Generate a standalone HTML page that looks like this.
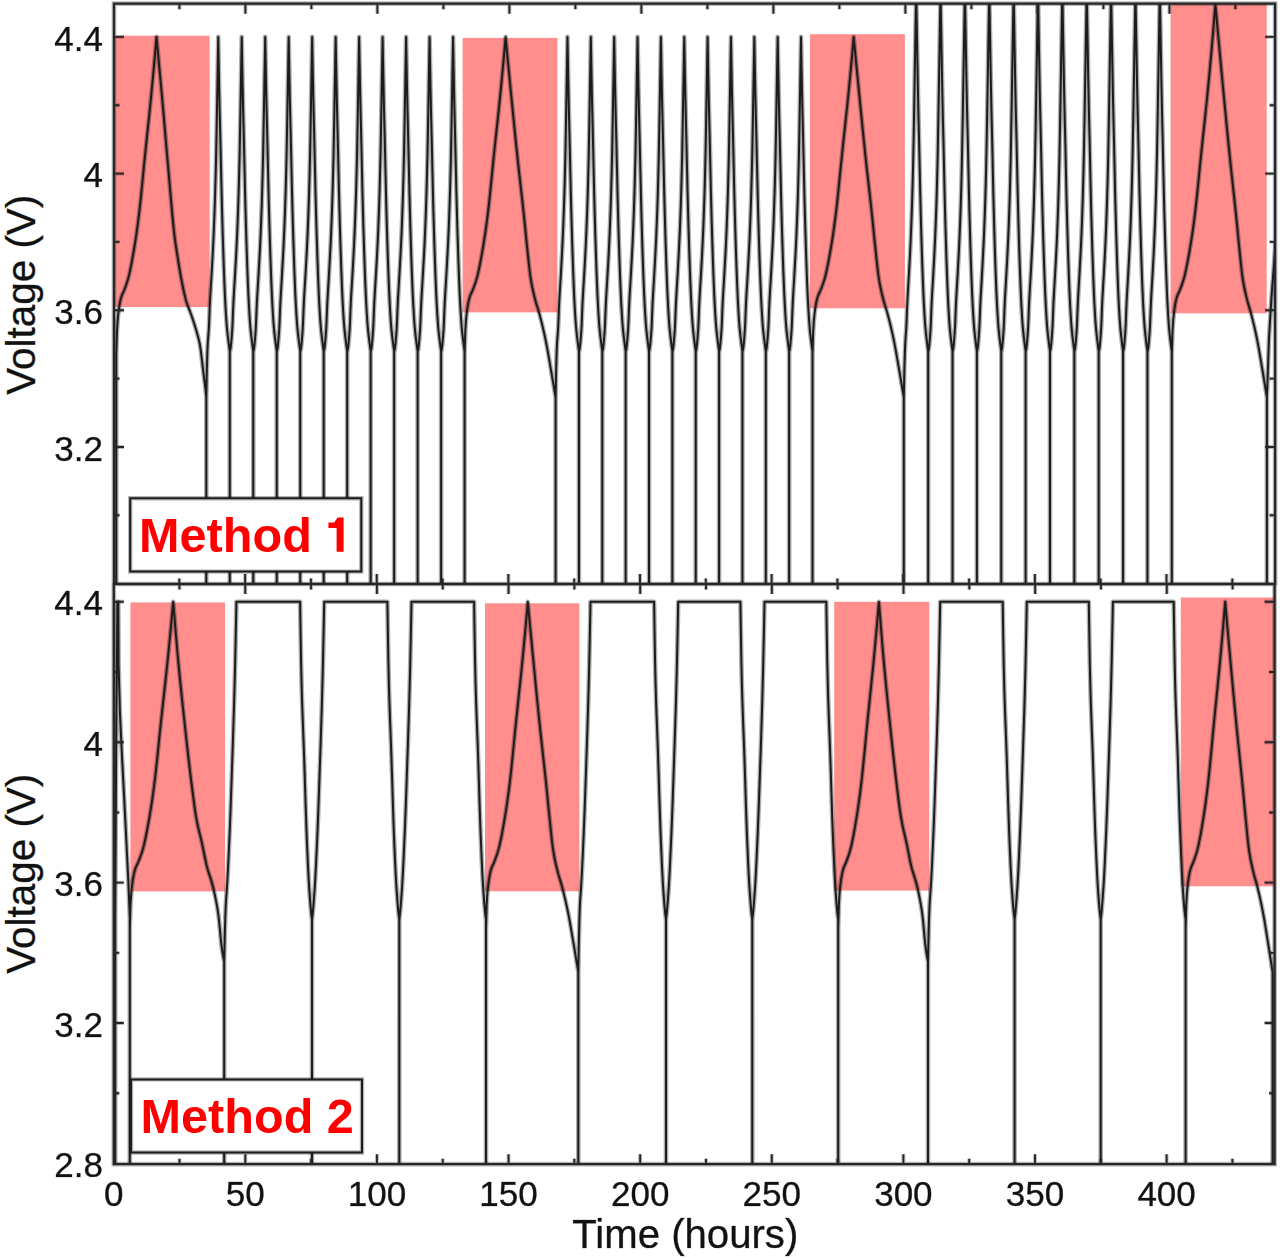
<!DOCTYPE html>
<html><head><meta charset="utf-8"><title>Voltage vs time</title>
<style>
html,body{margin:0;padding:0;background:#fff;width:1280px;height:1258px;overflow:hidden;}
svg{display:block;}
text{font-family:"Liberation Sans",sans-serif;}
</style></head><body>
<svg width="1280" height="1258" viewBox="0 0 1280 1258">
<defs><clipPath id="cT"><rect x="114.00" y="3.70" width="1161.10" height="580.30"/></clipPath><clipPath id="cB"><rect x="113.80" y="584.00" width="1160.80" height="580.20"/></clipPath></defs>
<rect x="0" y="0" width="1280" height="1258" fill="#fff"/>
<g fill="#ff8e8d">
<rect x="114.0" y="35.7" width="95.6" height="271.4" clip-path="url(#cT)"/>
<rect x="462.6" y="37.9" width="94.8" height="274.5" clip-path="url(#cT)"/>
<rect x="810.0" y="34.2" width="94.9" height="274.1" clip-path="url(#cT)"/>
<rect x="1170.5" y="3.0" width="96.2" height="310.3" clip-path="url(#cT)"/>
<rect x="130.4" y="602.4" width="94.6" height="289.0" clip-path="url(#cB)"/>
<rect x="485.0" y="603.3" width="94.4" height="288.0" clip-path="url(#cB)"/>
<rect x="834.2" y="601.8" width="95.0" height="288.8" clip-path="url(#cB)"/>
<rect x="1180.8" y="597.5" width="95.2" height="288.8" clip-path="url(#cB)"/>
</g>
<defs><path id="m1" d="M116.30 686.13 L116.30 354.68 L116.30 354.68 L116.98 331.38 L117.66 320.37 L118.34 313.39 L119.03 308.14 L119.71 303.89 L120.39 300.50 L121.07 297.81 L121.75 295.70 L122.43 294.03 L123.11 292.57 L123.79 291.10 L124.48 289.39 L125.16 287.58 L125.84 285.73 L126.52 283.80 L127.20 281.74 L127.88 279.50 L128.56 277.03 L129.25 274.28 L129.93 271.27 L130.61 268.03 L131.29 264.58 L131.97 260.95 L132.65 257.17 L133.33 253.26 L134.02 249.27 L134.70 245.19 L135.38 240.92 L136.06 236.42 L136.74 231.69 L137.42 226.74 L138.10 221.57 L138.78 216.17 L139.47 210.44 L140.15 204.30 L140.83 197.82 L141.51 191.08 L142.19 184.17 L142.87 177.16 L143.55 170.12 L144.24 163.14 L144.92 156.29 L145.60 149.64 L146.28 143.09 L146.96 136.59 L147.64 130.12 L148.32 123.64 L149.01 117.12 L149.69 110.53 L150.37 103.83 L151.05 96.99 L151.73 89.98 L152.41 82.84 L153.09 75.59 L153.77 68.21 L154.46 60.68 L155.14 52.96 L155.82 45.05 L156.50 36.90 L156.50 36.90 L157.22 44.75 L157.94 52.54 L158.67 60.31 L159.39 68.07 L160.11 75.86 L160.83 83.69 L161.55 91.58 L162.27 99.57 L163.00 107.68 L163.72 115.94 L164.44 124.31 L165.16 132.75 L165.88 141.20 L166.60 149.63 L167.33 157.99 L168.05 166.25 L168.77 174.34 L169.49 182.52 L170.21 190.86 L170.93 199.22 L171.66 207.44 L172.38 215.37 L173.10 222.88 L173.82 229.81 L174.54 236.03 L175.27 241.57 L175.99 246.64 L176.71 251.38 L177.43 255.96 L178.15 260.51 L178.87 265.03 L179.60 269.42 L180.32 273.64 L181.04 277.62 L181.76 281.35 L182.48 284.98 L183.20 288.51 L183.93 291.89 L184.65 295.09 L185.37 298.05 L186.09 300.73 L186.81 303.10 L187.53 305.17 L188.26 307.05 L188.98 308.82 L189.70 310.60 L190.42 312.46 L191.14 314.49 L191.87 316.58 L192.59 318.71 L193.31 320.89 L194.03 323.12 L194.75 325.42 L195.47 327.80 L196.20 330.26 L196.92 332.75 L197.64 335.25 L198.36 337.89 L199.08 340.86 L199.80 344.32 L200.53 348.75 L201.25 354.28 L201.97 360.41 L202.69 366.66 L203.41 372.55 L204.13 378.05 L204.86 383.75 L205.58 390.20 L206.30 397.39 L206.30 686.13 M206.30 686.13 L206.30 397.39 L206.61 381.57 L206.91 367.97 L207.22 356.72 L207.52 347.94 L207.83 341.75 L208.14 337.82 L208.44 333.96 L208.75 329.89 L209.06 323.83 L209.36 316.08 L209.67 308.20 L209.97 301.63 L210.28 296.02 L210.59 290.80 L210.89 285.80 L211.20 280.81 L211.51 275.65 L211.81 270.19 L212.12 264.72 L212.42 259.19 L212.73 253.51 L213.04 247.54 L213.34 241.18 L213.65 234.35 L213.95 227.07 L214.26 219.29 L214.57 210.94 L214.87 201.96 L215.18 192.22 L215.49 181.37 L215.79 169.37 L216.10 156.22 L216.40 141.11 L216.71 124.23 L217.02 106.94 L217.32 89.78 L217.63 72.24 L217.93 54.53 L218.24 36.90 L218.24 36.90 L218.72 63.71 L219.20 89.11 L219.68 111.13 L220.16 130.50 L220.65 150.43 L221.13 172.36 L221.61 193.62 L222.09 212.12 L222.57 228.99 L223.05 244.65 L223.53 259.29 L224.01 272.67 L224.49 285.02 L224.97 296.12 L225.45 305.43 L225.93 313.81 L226.42 321.19 L226.90 327.35 L227.38 332.32 L227.86 336.56 L228.34 340.43 L228.82 344.24 L229.30 347.87 L229.78 351.26 L229.78 686.13 M229.78 686.13 L229.78 351.26 L230.09 350.79 L230.39 349.45 L230.70 347.36 L231.01 344.64 L231.31 341.42 L231.62 337.82 L231.93 333.96 L232.23 329.89 L232.54 323.83 L232.84 316.08 L233.15 308.20 L233.46 301.63 L233.76 296.02 L234.07 290.80 L234.37 285.80 L234.68 280.81 L234.99 275.65 L235.29 270.19 L235.60 264.72 L235.91 259.19 L236.21 253.51 L236.52 247.54 L236.82 241.18 L237.13 234.35 L237.44 227.07 L237.74 219.29 L238.05 210.94 L238.35 201.96 L238.66 192.22 L238.97 181.37 L239.27 169.37 L239.58 156.22 L239.89 141.11 L240.19 124.23 L240.50 106.94 L240.80 89.78 L241.11 72.24 L241.42 54.53 L241.72 36.90 L241.72 36.90 L242.20 63.71 L242.68 89.11 L243.17 111.13 L243.65 130.50 L244.13 150.43 L244.61 172.36 L245.09 193.62 L245.57 212.12 L246.05 228.99 L246.53 244.65 L247.01 259.29 L247.49 272.67 L247.97 285.02 L248.45 296.12 L248.94 305.43 L249.42 313.81 L249.90 321.19 L250.38 327.35 L250.86 332.32 L251.34 336.56 L251.82 340.43 L252.30 344.24 L252.78 347.87 L253.26 351.26 L253.26 686.13 M253.26 686.13 L253.26 351.26 L253.57 350.79 L253.88 349.45 L254.18 347.36 L254.49 344.64 L254.79 341.42 L255.10 337.82 L255.41 333.96 L255.71 329.89 L256.02 323.83 L256.33 316.08 L256.63 308.20 L256.94 301.63 L257.24 296.02 L257.55 290.80 L257.86 285.80 L258.16 280.81 L258.47 275.65 L258.77 270.19 L259.08 264.72 L259.39 259.19 L259.69 253.51 L260.00 247.54 L260.31 241.18 L260.61 234.35 L260.92 227.07 L261.22 219.29 L261.53 210.94 L261.84 201.96 L262.14 192.22 L262.45 181.37 L262.76 169.37 L263.06 156.22 L263.37 141.11 L263.67 124.23 L263.98 106.94 L264.29 89.78 L264.59 72.24 L264.90 54.53 L265.20 36.90 L265.20 36.90 L265.69 63.71 L266.17 89.11 L266.65 111.13 L267.13 130.50 L267.61 150.43 L268.09 172.36 L268.57 193.62 L269.05 212.12 L269.53 228.99 L270.01 244.65 L270.49 259.29 L270.98 272.67 L271.46 285.02 L271.94 296.12 L272.42 305.43 L272.90 313.81 L273.38 321.19 L273.86 327.35 L274.34 332.32 L274.82 336.56 L275.30 340.43 L275.78 344.24 L276.26 347.87 L276.75 351.26 L276.75 686.13 M276.75 686.13 L276.75 351.26 L277.05 350.79 L277.36 349.45 L277.66 347.36 L277.97 344.64 L278.28 341.42 L278.58 337.82 L278.89 333.96 L279.19 329.89 L279.50 323.83 L279.81 316.08 L280.11 308.20 L280.42 301.63 L280.73 296.02 L281.03 290.80 L281.34 285.80 L281.64 280.81 L281.95 275.65 L282.26 270.19 L282.56 264.72 L282.87 259.19 L283.18 253.51 L283.48 247.54 L283.79 241.18 L284.09 234.35 L284.40 227.07 L284.71 219.29 L285.01 210.94 L285.32 201.96 L285.62 192.22 L285.93 181.37 L286.24 169.37 L286.54 156.22 L286.85 141.11 L287.16 124.23 L287.46 106.94 L287.77 89.78 L288.07 72.24 L288.38 54.53 L288.69 36.90 L288.69 36.90 L289.17 63.71 L289.65 89.11 L290.13 111.13 L290.61 130.50 L291.09 150.43 L291.57 172.36 L292.05 193.62 L292.53 212.12 L293.01 228.99 L293.50 244.65 L293.98 259.29 L294.46 272.67 L294.94 285.02 L295.42 296.12 L295.90 305.43 L296.38 313.81 L296.86 321.19 L297.34 327.35 L297.82 332.32 L298.30 336.56 L298.78 340.43 L299.27 344.24 L299.75 347.87 L300.23 351.26 L300.23 686.13 M300.23 686.13 L300.23 351.26 L300.53 350.79 L300.84 349.45 L301.15 347.36 L301.45 344.64 L301.76 341.42 L302.06 337.82 L302.37 333.96 L302.68 329.89 L302.98 323.83 L303.29 316.08 L303.60 308.20 L303.90 301.63 L304.21 296.02 L304.51 290.80 L304.82 285.80 L305.13 280.81 L305.43 275.65 L305.74 270.19 L306.04 264.72 L306.35 259.19 L306.66 253.51 L306.96 247.54 L307.27 241.18 L307.58 234.35 L307.88 227.07 L308.19 219.29 L308.49 210.94 L308.80 201.96 L309.11 192.22 L309.41 181.37 L309.72 169.37 L310.02 156.22 L310.33 141.11 L310.64 124.23 L310.94 106.94 L311.25 89.78 L311.56 72.24 L311.86 54.53 L312.17 36.90 L312.17 36.90 L312.65 63.71 L313.13 89.11 L313.61 111.13 L314.09 130.50 L314.57 150.43 L315.05 172.36 L315.53 193.62 L316.02 212.12 L316.50 228.99 L316.98 244.65 L317.46 259.29 L317.94 272.67 L318.42 285.02 L318.90 296.12 L319.38 305.43 L319.86 313.81 L320.34 321.19 L320.82 327.35 L321.30 332.32 L321.79 336.56 L322.27 340.43 L322.75 344.24 L323.23 347.87 L323.71 351.26 L323.71 686.13 M323.71 686.13 L323.71 351.26 L324.02 350.79 L324.32 349.45 L324.63 347.36 L324.93 344.64 L325.24 341.42 L325.55 337.82 L325.85 333.96 L326.16 329.89 L326.46 323.83 L326.77 316.08 L327.08 308.20 L327.38 301.63 L327.69 296.02 L328.00 290.80 L328.30 285.80 L328.61 280.81 L328.91 275.65 L329.22 270.19 L329.53 264.72 L329.83 259.19 L330.14 253.51 L330.44 247.54 L330.75 241.18 L331.06 234.35 L331.36 227.07 L331.67 219.29 L331.98 210.94 L332.28 201.96 L332.59 192.22 L332.89 181.37 L333.20 169.37 L333.51 156.22 L333.81 141.11 L334.12 124.23 L334.43 106.94 L334.73 89.78 L335.04 72.24 L335.34 54.53 L335.65 36.90 L335.65 36.90 L336.13 63.71 L336.61 89.11 L337.09 111.13 L337.57 130.50 L338.05 150.43 L338.54 172.36 L339.02 193.62 L339.50 212.12 L339.98 228.99 L340.46 244.65 L340.94 259.29 L341.42 272.67 L341.90 285.02 L342.38 296.12 L342.86 305.43 L343.34 313.81 L343.82 321.19 L344.31 327.35 L344.79 332.32 L345.27 336.56 L345.75 340.43 L346.23 344.24 L346.71 347.87 L347.19 351.26 L347.19 686.13 M347.19 686.13 L347.19 351.26 L347.50 350.79 L347.80 349.45 L348.11 347.36 L348.42 344.64 L348.72 341.42 L349.03 337.82 L349.33 333.96 L349.64 329.89 L349.95 323.83 L350.25 316.08 L350.56 308.20 L350.87 301.63 L351.17 296.02 L351.48 290.80 L351.78 285.80 L352.09 280.81 L352.40 275.65 L352.70 270.19 L353.01 264.72 L353.31 259.19 L353.62 253.51 L353.93 247.54 L354.23 241.18 L354.54 234.35 L354.85 227.07 L355.15 219.29 L355.46 210.94 L355.76 201.96 L356.07 192.22 L356.38 181.37 L356.68 169.37 L356.99 156.22 L357.29 141.11 L357.60 124.23 L357.91 106.94 L358.21 89.78 L358.52 72.24 L358.83 54.53 L359.13 36.90 L359.13 36.90 L359.61 63.71 L360.09 89.11 L360.57 111.13 L361.06 130.50 L361.54 150.43 L362.02 172.36 L362.50 193.62 L362.98 212.12 L363.46 228.99 L363.94 244.65 L364.42 259.29 L364.90 272.67 L365.38 285.02 L365.86 296.12 L366.34 305.43 L366.83 313.81 L367.31 321.19 L367.79 327.35 L368.27 332.32 L368.75 336.56 L369.23 340.43 L369.71 344.24 L370.19 347.87 L370.67 351.26 L370.67 686.13 M370.67 686.13 L370.67 351.26 L370.98 350.79 L371.29 349.45 L371.59 347.36 L371.90 344.64 L372.20 341.42 L372.51 337.82 L372.82 333.96 L373.12 329.89 L373.43 323.83 L373.73 316.08 L374.04 308.20 L374.35 301.63 L374.65 296.02 L374.96 290.80 L375.27 285.80 L375.57 280.81 L375.88 275.65 L376.18 270.19 L376.49 264.72 L376.80 259.19 L377.10 253.51 L377.41 247.54 L377.71 241.18 L378.02 234.35 L378.33 227.07 L378.63 219.29 L378.94 210.94 L379.25 201.96 L379.55 192.22 L379.86 181.37 L380.16 169.37 L380.47 156.22 L380.78 141.11 L381.08 124.23 L381.39 106.94 L381.70 89.78 L382.00 72.24 L382.31 54.53 L382.61 36.90 L382.61 36.90 L383.09 63.71 L383.58 89.11 L384.06 111.13 L384.54 130.50 L385.02 150.43 L385.50 172.36 L385.98 193.62 L386.46 212.12 L386.94 228.99 L387.42 244.65 L387.90 259.29 L388.38 272.67 L388.86 285.02 L389.35 296.12 L389.83 305.43 L390.31 313.81 L390.79 321.19 L391.27 327.35 L391.75 332.32 L392.23 336.56 L392.71 340.43 L393.19 344.24 L393.67 347.87 L394.15 351.26 L394.15 686.13 M394.15 686.13 L394.15 351.26 L394.46 350.79 L394.77 349.45 L395.07 347.36 L395.38 344.64 L395.69 341.42 L395.99 337.82 L396.30 333.96 L396.60 329.89 L396.91 323.83 L397.22 316.08 L397.52 308.20 L397.83 301.63 L398.13 296.02 L398.44 290.80 L398.75 285.80 L399.05 280.81 L399.36 275.65 L399.67 270.19 L399.97 264.72 L400.28 259.19 L400.58 253.51 L400.89 247.54 L401.20 241.18 L401.50 234.35 L401.81 227.07 L402.12 219.29 L402.42 210.94 L402.73 201.96 L403.03 192.22 L403.34 181.37 L403.65 169.37 L403.95 156.22 L404.26 141.11 L404.56 124.23 L404.87 106.94 L405.18 89.78 L405.48 72.24 L405.79 54.53 L406.10 36.90 L406.10 36.90 L406.58 63.71 L407.06 89.11 L407.54 111.13 L408.02 130.50 L408.50 150.43 L408.98 172.36 L409.46 193.62 L409.94 212.12 L410.42 228.99 L410.90 244.65 L411.39 259.29 L411.87 272.67 L412.35 285.02 L412.83 296.12 L413.31 305.43 L413.79 313.81 L414.27 321.19 L414.75 327.35 L415.23 332.32 L415.71 336.56 L416.19 340.43 L416.67 344.24 L417.16 347.87 L417.64 351.26 L417.64 686.13 M417.64 686.13 L417.64 351.26 L417.94 350.79 L418.25 349.45 L418.55 347.36 L418.86 344.64 L419.17 341.42 L419.47 337.82 L419.78 333.96 L420.09 329.89 L420.39 323.83 L420.70 316.08 L421.00 308.20 L421.31 301.63 L421.62 296.02 L421.92 290.80 L422.23 285.80 L422.54 280.81 L422.84 275.65 L423.15 270.19 L423.45 264.72 L423.76 259.19 L424.07 253.51 L424.37 247.54 L424.68 241.18 L424.98 234.35 L425.29 227.07 L425.60 219.29 L425.90 210.94 L426.21 201.96 L426.52 192.22 L426.82 181.37 L427.13 169.37 L427.43 156.22 L427.74 141.11 L428.05 124.23 L428.35 106.94 L428.66 89.78 L428.96 72.24 L429.27 54.53 L429.58 36.90 L429.58 36.90 L430.06 63.71 L430.54 89.11 L431.02 111.13 L431.50 130.50 L431.98 150.43 L432.46 172.36 L432.94 193.62 L433.42 212.12 L433.91 228.99 L434.39 244.65 L434.87 259.29 L435.35 272.67 L435.83 285.02 L436.31 296.12 L436.79 305.43 L437.27 313.81 L437.75 321.19 L438.23 327.35 L438.71 332.32 L439.19 336.56 L439.68 340.43 L440.16 344.24 L440.64 347.87 L441.12 351.26 L441.12 686.13 M441.12 686.13 L441.12 351.26 L441.42 350.79 L441.73 349.45 L442.04 347.36 L442.34 344.64 L442.65 341.42 L442.96 337.82 L443.26 333.96 L443.57 329.89 L443.87 323.83 L444.18 316.08 L444.49 308.20 L444.79 301.63 L445.10 296.02 L445.40 290.80 L445.71 285.80 L446.02 280.81 L446.32 275.65 L446.63 270.19 L446.94 264.72 L447.24 259.19 L447.55 253.51 L447.85 247.54 L448.16 241.18 L448.47 234.35 L448.77 227.07 L449.08 219.29 L449.38 210.94 L449.69 201.96 L450.00 192.22 L450.30 181.37 L450.61 169.37 L450.92 156.22 L451.22 141.11 L451.53 124.23 L451.83 106.94 L452.14 89.78 L452.45 72.24 L452.75 54.53 L453.06 36.90 L453.06 36.90 L453.54 63.71 L454.02 89.11 L454.50 111.13 L454.98 130.50 L455.46 150.43 L455.94 172.36 L456.43 193.62 L456.91 212.12 L457.39 228.99 L457.87 244.65 L458.35 259.29 L458.83 272.67 L459.31 285.02 L459.79 296.12 L460.27 305.43 L460.75 313.81 L461.23 321.19 L461.71 327.35 L462.20 332.32 L462.68 336.56 L463.16 340.43 L463.64 344.24 L464.12 347.87 L464.60 351.26 L464.60 686.13 M464.60 686.13 L464.60 354.68 L464.60 354.68 L465.29 331.38 L465.99 320.37 L466.68 313.39 L467.38 308.14 L468.07 303.89 L468.77 300.50 L469.46 297.81 L470.16 295.70 L470.85 294.03 L471.55 292.57 L472.24 291.10 L472.94 289.39 L473.63 287.58 L474.33 285.73 L475.02 283.80 L475.72 281.74 L476.41 279.50 L477.11 277.03 L477.80 274.28 L478.50 271.27 L479.19 268.03 L479.89 264.58 L480.58 260.95 L481.28 257.17 L481.97 253.26 L482.67 249.27 L483.36 245.19 L484.06 240.92 L484.75 236.42 L485.45 231.69 L486.14 226.74 L486.84 221.57 L487.53 216.17 L488.23 210.44 L488.92 204.30 L489.62 197.82 L490.31 191.08 L491.01 184.17 L491.70 177.16 L492.40 170.12 L493.09 163.14 L493.79 156.29 L494.48 149.64 L495.18 143.09 L495.87 136.59 L496.57 130.12 L497.26 123.64 L497.96 117.12 L498.65 110.53 L499.35 103.83 L500.04 96.99 L500.74 89.98 L501.43 82.84 L502.13 75.59 L502.82 68.21 L503.52 60.68 L504.21 52.96 L504.91 45.05 L505.60 36.90 L505.60 36.90 L506.32 44.59 L507.05 52.23 L507.77 59.83 L508.50 67.38 L509.22 74.89 L509.95 82.35 L510.67 89.76 L511.40 97.14 L512.12 104.51 L512.85 111.86 L513.57 119.17 L514.30 126.44 L515.02 133.64 L515.74 140.76 L516.47 147.80 L517.19 154.73 L517.92 161.52 L518.64 168.14 L519.37 174.66 L520.09 181.10 L520.82 187.51 L521.54 193.93 L522.27 200.42 L522.99 207.01 L523.72 213.74 L524.44 220.70 L525.17 227.96 L525.89 235.28 L526.61 242.45 L527.34 249.27 L528.06 256.17 L528.79 263.03 L529.51 269.53 L530.24 275.35 L530.96 280.19 L531.69 284.28 L532.41 287.96 L533.14 291.29 L533.86 294.38 L534.59 297.30 L535.31 300.13 L536.03 302.73 L536.76 305.13 L537.48 307.42 L538.21 309.73 L538.93 312.17 L539.66 314.83 L540.38 317.59 L541.11 320.42 L541.83 323.32 L542.56 326.32 L543.28 329.40 L544.01 332.59 L544.73 335.88 L545.46 339.29 L546.18 342.86 L546.90 346.66 L547.63 350.63 L548.35 354.75 L549.08 358.95 L549.80 363.19 L550.53 367.43 L551.25 371.62 L551.98 375.84 L552.70 380.11 L553.43 384.40 L554.15 388.71 L554.88 393.04 L555.60 397.39 L555.60 686.13 M555.60 686.13 L555.60 397.39 L555.90 381.57 L556.21 367.97 L556.51 356.72 L556.82 347.94 L557.12 341.75 L557.43 337.82 L557.73 333.96 L558.04 329.89 L558.34 323.83 L558.65 316.08 L558.95 308.20 L559.25 301.63 L559.56 296.02 L559.86 290.80 L560.17 285.80 L560.47 280.81 L560.78 275.65 L561.08 270.19 L561.39 264.72 L561.69 259.19 L562.00 253.51 L562.30 247.54 L562.60 241.18 L562.91 234.35 L563.21 227.07 L563.52 219.29 L563.82 210.94 L564.13 201.96 L564.43 192.22 L564.74 181.37 L565.04 169.37 L565.35 156.22 L565.65 141.11 L565.95 124.23 L566.26 106.94 L566.56 89.78 L566.87 72.24 L567.17 54.53 L567.48 36.90 L567.48 36.90 L567.96 63.71 L568.43 89.11 L568.91 111.13 L569.39 130.50 L569.87 150.43 L570.35 172.36 L570.82 193.62 L571.30 212.12 L571.78 228.99 L572.26 244.65 L572.74 259.29 L573.22 272.67 L573.69 285.02 L574.17 296.12 L574.65 305.43 L575.13 313.81 L575.61 321.19 L576.09 327.35 L576.56 332.32 L577.04 336.56 L577.52 340.43 L578.00 344.24 L578.48 347.87 L578.95 351.26 L578.95 686.13 M578.95 686.13 L578.95 351.26 L579.26 350.79 L579.56 349.45 L579.87 347.36 L580.17 344.64 L580.48 341.42 L580.78 337.82 L581.09 333.96 L581.39 329.89 L581.70 323.83 L582.00 316.08 L582.30 308.20 L582.61 301.63 L582.91 296.02 L583.22 290.80 L583.52 285.80 L583.83 280.81 L584.13 275.65 L584.44 270.19 L584.74 264.72 L585.05 259.19 L585.35 253.51 L585.65 247.54 L585.96 241.18 L586.26 234.35 L586.57 227.07 L586.87 219.29 L587.18 210.94 L587.48 201.96 L587.79 192.22 L588.09 181.37 L588.40 169.37 L588.70 156.22 L589.00 141.11 L589.31 124.23 L589.61 106.94 L589.92 89.78 L590.22 72.24 L590.53 54.53 L590.83 36.90 L590.83 36.90 L591.31 63.71 L591.79 89.11 L592.27 111.13 L592.74 130.50 L593.22 150.43 L593.70 172.36 L594.18 193.62 L594.66 212.12 L595.14 228.99 L595.61 244.65 L596.09 259.29 L596.57 272.67 L597.05 285.02 L597.53 296.12 L598.01 305.43 L598.48 313.81 L598.96 321.19 L599.44 327.35 L599.92 332.32 L600.40 336.56 L600.87 340.43 L601.35 344.24 L601.83 347.87 L602.31 351.26 L602.31 686.13 M602.31 686.13 L602.31 351.26 L602.61 350.79 L602.92 349.45 L603.22 347.36 L603.53 344.64 L603.83 341.42 L604.14 337.82 L604.44 333.96 L604.75 329.89 L605.05 323.83 L605.35 316.08 L605.66 308.20 L605.96 301.63 L606.27 296.02 L606.57 290.80 L606.88 285.80 L607.18 280.81 L607.49 275.65 L607.79 270.19 L608.10 264.72 L608.40 259.19 L608.70 253.51 L609.01 247.54 L609.31 241.18 L609.62 234.35 L609.92 227.07 L610.23 219.29 L610.53 210.94 L610.84 201.96 L611.14 192.22 L611.45 181.37 L611.75 169.37 L612.05 156.22 L612.36 141.11 L612.66 124.23 L612.97 106.94 L613.27 89.78 L613.58 72.24 L613.88 54.53 L614.19 36.90 L614.19 36.90 L614.66 63.71 L615.14 89.11 L615.62 111.13 L616.10 130.50 L616.58 150.43 L617.06 172.36 L617.53 193.62 L618.01 212.12 L618.49 228.99 L618.97 244.65 L619.45 259.29 L619.93 272.67 L620.40 285.02 L620.88 296.12 L621.36 305.43 L621.84 313.81 L622.32 321.19 L622.79 327.35 L623.27 332.32 L623.75 336.56 L624.23 340.43 L624.71 344.24 L625.19 347.87 L625.66 351.26 L625.66 686.13 M625.66 686.13 L625.66 351.26 L625.97 350.79 L626.27 349.45 L626.58 347.36 L626.88 344.64 L627.19 341.42 L627.49 337.82 L627.80 333.96 L628.10 329.89 L628.40 323.83 L628.71 316.08 L629.01 308.20 L629.32 301.63 L629.62 296.02 L629.93 290.80 L630.23 285.80 L630.54 280.81 L630.84 275.65 L631.15 270.19 L631.45 264.72 L631.75 259.19 L632.06 253.51 L632.36 247.54 L632.67 241.18 L632.97 234.35 L633.28 227.07 L633.58 219.29 L633.89 210.94 L634.19 201.96 L634.50 192.22 L634.80 181.37 L635.10 169.37 L635.41 156.22 L635.71 141.11 L636.02 124.23 L636.32 106.94 L636.63 89.78 L636.93 72.24 L637.24 54.53 L637.54 36.90 L637.54 36.90 L638.02 63.71 L638.50 89.11 L638.98 111.13 L639.45 130.50 L639.93 150.43 L640.41 172.36 L640.89 193.62 L641.37 212.12 L641.84 228.99 L642.32 244.65 L642.80 259.29 L643.28 272.67 L643.76 285.02 L644.24 296.12 L644.71 305.43 L645.19 313.81 L645.67 321.19 L646.15 327.35 L646.63 332.32 L647.11 336.56 L647.58 340.43 L648.06 344.24 L648.54 347.87 L649.02 351.26 L649.02 686.13 M649.02 686.13 L649.02 351.26 L649.32 350.79 L649.63 349.45 L649.93 347.36 L650.24 344.64 L650.54 341.42 L650.85 337.82 L651.15 333.96 L651.45 329.89 L651.76 323.83 L652.06 316.08 L652.37 308.20 L652.67 301.63 L652.98 296.02 L653.28 290.80 L653.59 285.80 L653.89 280.81 L654.20 275.65 L654.50 270.19 L654.80 264.72 L655.11 259.19 L655.41 253.51 L655.72 247.54 L656.02 241.18 L656.33 234.35 L656.63 227.07 L656.94 219.29 L657.24 210.94 L657.55 201.96 L657.85 192.22 L658.15 181.37 L658.46 169.37 L658.76 156.22 L659.07 141.11 L659.37 124.23 L659.68 106.94 L659.98 89.78 L660.29 72.24 L660.59 54.53 L660.90 36.90 L660.90 36.90 L661.37 63.71 L661.85 89.11 L662.33 111.13 L662.81 130.50 L663.29 150.43 L663.76 172.36 L664.24 193.62 L664.72 212.12 L665.20 228.99 L665.68 244.65 L666.16 259.29 L666.63 272.67 L667.11 285.02 L667.59 296.12 L668.07 305.43 L668.55 313.81 L669.03 321.19 L669.50 327.35 L669.98 332.32 L670.46 336.56 L670.94 340.43 L671.42 344.24 L671.89 347.87 L672.37 351.26 L672.37 686.13 M672.37 686.13 L672.37 351.26 L672.68 350.79 L672.98 349.45 L673.29 347.36 L673.59 344.64 L673.90 341.42 L674.20 337.82 L674.50 333.96 L674.81 329.89 L675.11 323.83 L675.42 316.08 L675.72 308.20 L676.03 301.63 L676.33 296.02 L676.64 290.80 L676.94 285.80 L677.25 280.81 L677.55 275.65 L677.85 270.19 L678.16 264.72 L678.46 259.19 L678.77 253.51 L679.07 247.54 L679.38 241.18 L679.68 234.35 L679.99 227.07 L680.29 219.29 L680.60 210.94 L680.90 201.96 L681.20 192.22 L681.51 181.37 L681.81 169.37 L682.12 156.22 L682.42 141.11 L682.73 124.23 L683.03 106.94 L683.34 89.78 L683.64 72.24 L683.95 54.53 L684.25 36.90 L684.25 36.90 L684.73 63.71 L685.21 89.11 L685.68 111.13 L686.16 130.50 L686.64 150.43 L687.12 172.36 L687.60 193.62 L688.08 212.12 L688.55 228.99 L689.03 244.65 L689.51 259.29 L689.99 272.67 L690.47 285.02 L690.95 296.12 L691.42 305.43 L691.90 313.81 L692.38 321.19 L692.86 327.35 L693.34 332.32 L693.81 336.56 L694.29 340.43 L694.77 344.24 L695.25 347.87 L695.73 351.26 L695.73 686.13 M695.73 686.13 L695.73 351.26 L696.03 350.79 L696.34 349.45 L696.64 347.36 L696.95 344.64 L697.25 341.42 L697.55 337.82 L697.86 333.96 L698.16 329.89 L698.47 323.83 L698.77 316.08 L699.08 308.20 L699.38 301.63 L699.69 296.02 L699.99 290.80 L700.30 285.80 L700.60 280.81 L700.90 275.65 L701.21 270.19 L701.51 264.72 L701.82 259.19 L702.12 253.51 L702.43 247.54 L702.73 241.18 L703.04 234.35 L703.34 227.07 L703.65 219.29 L703.95 210.94 L704.25 201.96 L704.56 192.22 L704.86 181.37 L705.17 169.37 L705.47 156.22 L705.78 141.11 L706.08 124.23 L706.39 106.94 L706.69 89.78 L707.00 72.24 L707.30 54.53 L707.60 36.90 L707.60 36.90 L708.08 63.71 L708.56 89.11 L709.04 111.13 L709.52 130.50 L710.00 150.43 L710.47 172.36 L710.95 193.62 L711.43 212.12 L711.91 228.99 L712.39 244.65 L712.86 259.29 L713.34 272.67 L713.82 285.02 L714.30 296.12 L714.78 305.43 L715.26 313.81 L715.73 321.19 L716.21 327.35 L716.69 332.32 L717.17 336.56 L717.65 340.43 L718.13 344.24 L718.60 347.87 L719.08 351.26 L719.08 686.13 M719.08 686.13 L719.08 351.26 L719.39 350.79 L719.69 349.45 L720.00 347.36 L720.30 344.64 L720.60 341.42 L720.91 337.82 L721.21 333.96 L721.52 329.89 L721.82 323.83 L722.13 316.08 L722.43 308.20 L722.74 301.63 L723.04 296.02 L723.35 290.80 L723.65 285.80 L723.95 280.81 L724.26 275.65 L724.56 270.19 L724.87 264.72 L725.17 259.19 L725.48 253.51 L725.78 247.54 L726.09 241.18 L726.39 234.35 L726.70 227.07 L727.00 219.29 L727.30 210.94 L727.61 201.96 L727.91 192.22 L728.22 181.37 L728.52 169.37 L728.83 156.22 L729.13 141.11 L729.44 124.23 L729.74 106.94 L730.05 89.78 L730.35 72.24 L730.65 54.53 L730.96 36.90 L730.96 36.90 L731.44 63.71 L731.92 89.11 L732.39 111.13 L732.87 130.50 L733.35 150.43 L733.83 172.36 L734.31 193.62 L734.78 212.12 L735.26 228.99 L735.74 244.65 L736.22 259.29 L736.70 272.67 L737.18 285.02 L737.65 296.12 L738.13 305.43 L738.61 313.81 L739.09 321.19 L739.57 327.35 L740.05 332.32 L740.52 336.56 L741.00 340.43 L741.48 344.24 L741.96 347.87 L742.44 351.26 L742.44 686.13 M742.44 686.13 L742.44 351.26 L742.74 350.79 L743.05 349.45 L743.35 347.36 L743.65 344.64 L743.96 341.42 L744.26 337.82 L744.57 333.96 L744.87 329.89 L745.18 323.83 L745.48 316.08 L745.79 308.20 L746.09 301.63 L746.40 296.02 L746.70 290.80 L747.00 285.80 L747.31 280.81 L747.61 275.65 L747.92 270.19 L748.22 264.72 L748.53 259.19 L748.83 253.51 L749.14 247.54 L749.44 241.18 L749.75 234.35 L750.05 227.07 L750.35 219.29 L750.66 210.94 L750.96 201.96 L751.27 192.22 L751.57 181.37 L751.88 169.37 L752.18 156.22 L752.49 141.11 L752.79 124.23 L753.10 106.94 L753.40 89.78 L753.70 72.24 L754.01 54.53 L754.31 36.90 L754.31 36.90 L754.79 63.71 L755.27 89.11 L755.75 111.13 L756.23 130.50 L756.70 150.43 L757.18 172.36 L757.66 193.62 L758.14 212.12 L758.62 228.99 L759.10 244.65 L759.57 259.29 L760.05 272.67 L760.53 285.02 L761.01 296.12 L761.49 305.43 L761.97 313.81 L762.44 321.19 L762.92 327.35 L763.40 332.32 L763.88 336.56 L764.36 340.43 L764.83 344.24 L765.31 347.87 L765.79 351.26 L765.79 686.13 M765.79 686.13 L765.79 351.26 L766.10 350.79 L766.40 349.45 L766.70 347.36 L767.01 344.64 L767.31 341.42 L767.62 337.82 L767.92 333.96 L768.23 329.89 L768.53 323.83 L768.84 316.08 L769.14 308.20 L769.45 301.63 L769.75 296.02 L770.05 290.80 L770.36 285.80 L770.66 280.81 L770.97 275.65 L771.27 270.19 L771.58 264.72 L771.88 259.19 L772.19 253.51 L772.49 247.54 L772.80 241.18 L773.10 234.35 L773.40 227.07 L773.71 219.29 L774.01 210.94 L774.32 201.96 L774.62 192.22 L774.93 181.37 L775.23 169.37 L775.54 156.22 L775.84 141.11 L776.15 124.23 L776.45 106.94 L776.75 89.78 L777.06 72.24 L777.36 54.53 L777.67 36.90 L777.67 36.90 L778.15 63.71 L778.62 89.11 L779.10 111.13 L779.58 130.50 L780.06 150.43 L780.54 172.36 L781.02 193.62 L781.49 212.12 L781.97 228.99 L782.45 244.65 L782.93 259.29 L783.41 272.67 L783.89 285.02 L784.36 296.12 L784.84 305.43 L785.32 313.81 L785.80 321.19 L786.28 327.35 L786.75 332.32 L787.23 336.56 L787.71 340.43 L788.19 344.24 L788.67 347.87 L789.15 351.26 L789.15 686.13 M789.15 686.13 L789.15 351.26 L789.45 350.79 L789.75 349.45 L790.06 347.36 L790.36 344.64 L790.67 341.42 L790.97 337.82 L791.28 333.96 L791.58 329.89 L791.89 323.83 L792.19 316.08 L792.50 308.20 L792.80 301.63 L793.10 296.02 L793.41 290.80 L793.71 285.80 L794.02 280.81 L794.32 275.65 L794.63 270.19 L794.93 264.72 L795.24 259.19 L795.54 253.51 L795.85 247.54 L796.15 241.18 L796.45 234.35 L796.76 227.07 L797.06 219.29 L797.37 210.94 L797.67 201.96 L797.98 192.22 L798.28 181.37 L798.59 169.37 L798.89 156.22 L799.20 141.11 L799.50 124.23 L799.80 106.94 L800.11 89.78 L800.41 72.24 L800.72 54.53 L801.02 36.90 L801.02 36.90 L801.50 63.71 L801.98 89.11 L802.46 111.13 L802.94 130.50 L803.41 150.43 L803.89 172.36 L804.37 193.62 L804.85 212.12 L805.33 228.99 L805.80 244.65 L806.28 259.29 L806.76 272.67 L807.24 285.02 L807.72 296.12 L808.20 305.43 L808.67 313.81 L809.15 321.19 L809.63 327.35 L810.11 332.32 L810.59 336.56 L811.07 340.43 L811.54 344.24 L812.02 347.87 L812.50 351.26 L812.50 686.13 M812.50 686.13 L812.50 354.68 L812.50 354.68 L813.20 331.38 L813.90 320.37 L814.59 313.39 L815.29 308.14 L815.99 303.89 L816.69 300.50 L817.39 297.81 L818.09 295.70 L818.78 294.03 L819.48 292.57 L820.18 291.10 L820.88 289.39 L821.58 287.58 L822.28 285.73 L822.97 283.80 L823.67 281.74 L824.37 279.50 L825.07 277.03 L825.77 274.28 L826.47 271.27 L827.16 268.03 L827.86 264.58 L828.56 260.95 L829.26 257.17 L829.96 253.26 L830.66 249.27 L831.35 245.19 L832.05 240.92 L832.75 236.42 L833.45 231.69 L834.15 226.74 L834.85 221.57 L835.54 216.17 L836.24 210.44 L836.94 204.30 L837.64 197.82 L838.34 191.08 L839.04 184.17 L839.73 177.16 L840.43 170.12 L841.13 163.14 L841.83 156.29 L842.53 149.64 L843.23 143.09 L843.92 136.59 L844.62 130.12 L845.32 123.64 L846.02 117.12 L846.72 110.53 L847.42 103.83 L848.11 96.99 L848.81 89.98 L849.51 82.84 L850.21 75.59 L850.91 68.21 L851.61 60.68 L852.30 52.96 L853.00 45.05 L853.70 36.90 L853.70 36.90 L854.43 44.59 L855.15 52.23 L855.88 59.83 L856.60 67.38 L857.33 74.89 L858.06 82.35 L858.78 89.76 L859.51 97.14 L860.23 104.51 L860.96 111.86 L861.69 119.17 L862.41 126.44 L863.14 133.64 L863.87 140.76 L864.59 147.80 L865.32 154.73 L866.04 161.52 L866.77 168.14 L867.50 174.66 L868.22 181.10 L868.95 187.51 L869.67 193.93 L870.40 200.42 L871.13 207.01 L871.85 213.74 L872.58 220.70 L873.30 227.96 L874.03 235.28 L874.76 242.45 L875.48 249.27 L876.21 256.17 L876.93 263.03 L877.66 269.53 L878.39 275.35 L879.11 280.19 L879.84 284.28 L880.57 287.96 L881.29 291.29 L882.02 294.38 L882.74 297.30 L883.47 300.13 L884.20 302.73 L884.92 305.13 L885.65 307.42 L886.37 309.73 L887.10 312.17 L887.83 314.83 L888.55 317.59 L889.28 320.42 L890.00 323.32 L890.73 326.32 L891.46 329.40 L892.18 332.59 L892.91 335.88 L893.63 339.29 L894.36 342.86 L895.09 346.66 L895.81 350.63 L896.54 354.75 L897.27 358.95 L897.99 363.19 L898.72 367.43 L899.44 371.62 L900.17 375.84 L900.90 380.11 L901.62 384.40 L902.35 388.71 L903.07 393.04 L903.80 397.39 L903.80 686.13 M903.80 686.13 L903.80 397.39 L904.12 381.50 L904.43 367.72 L904.75 356.20 L905.07 347.09 L905.39 340.53 L905.70 336.22 L906.02 332.01 L906.34 326.79 L906.66 319.04 L906.97 310.48 L907.29 303.00 L907.61 296.88 L907.93 291.26 L908.24 285.89 L908.56 280.56 L908.88 275.01 L909.20 269.15 L909.51 263.29 L909.83 257.34 L910.15 251.16 L910.47 244.61 L910.78 237.55 L911.10 229.96 L911.42 221.84 L911.74 213.09 L912.05 203.63 L912.37 193.34 L912.69 181.82 L913.01 168.99 L913.32 154.83 L913.64 138.33 L913.96 120.07 L914.28 101.67 L914.59 83.15 L914.91 64.28 L915.23 45.34 L915.55 26.56 L915.86 7.81 L916.18 -10.94 L916.18 -9.04 L916.68 20.43 L917.18 49.28 L917.68 77.48 L918.18 102.80 L918.68 124.20 L919.18 145.01 L919.68 168.15 L920.18 191.21 L920.68 211.24 L921.17 229.31 L921.67 246.01 L922.17 261.52 L922.67 275.57 L923.17 288.52 L923.67 299.73 L924.17 309.22 L924.67 317.71 L925.17 324.92 L925.67 330.68 L926.17 335.43 L926.67 339.63 L927.17 343.72 L927.66 347.63 L928.16 351.26 L928.16 686.13 M928.16 686.13 L928.16 351.26 L928.48 350.72 L928.80 349.20 L929.12 346.84 L929.43 343.79 L929.75 340.20 L930.07 336.22 L930.39 332.01 L930.70 326.79 L931.02 319.04 L931.34 310.48 L931.66 303.00 L931.97 296.88 L932.29 291.26 L932.61 285.89 L932.93 280.56 L933.24 275.01 L933.56 269.15 L933.88 263.29 L934.20 257.34 L934.51 251.16 L934.83 244.61 L935.15 237.55 L935.47 229.96 L935.78 221.84 L936.10 213.09 L936.42 203.63 L936.74 193.34 L937.05 181.82 L937.37 168.99 L937.69 154.83 L938.01 138.33 L938.32 120.07 L938.64 101.67 L938.96 83.15 L939.28 64.28 L939.59 45.34 L939.91 26.56 L940.23 7.81 L940.55 -10.94 L940.55 -9.04 L941.04 20.43 L941.54 49.28 L942.04 77.48 L942.54 102.80 L943.04 124.20 L943.54 145.01 L944.04 168.15 L944.54 191.21 L945.04 211.24 L945.54 229.31 L946.04 246.01 L946.54 261.52 L947.04 275.57 L947.53 288.52 L948.03 299.73 L948.53 309.22 L949.03 317.71 L949.53 324.92 L950.03 330.68 L950.53 335.43 L951.03 339.63 L951.53 343.72 L952.03 347.63 L952.53 351.26 L952.53 686.13 M952.53 686.13 L952.53 351.26 L952.84 350.72 L953.16 349.20 L953.48 346.84 L953.80 343.79 L954.11 340.20 L954.43 336.22 L954.75 332.01 L955.07 326.79 L955.38 319.04 L955.70 310.48 L956.02 303.00 L956.34 296.88 L956.65 291.26 L956.97 285.89 L957.29 280.56 L957.61 275.01 L957.92 269.15 L958.24 263.29 L958.56 257.34 L958.88 251.16 L959.19 244.61 L959.51 237.55 L959.83 229.96 L960.15 221.84 L960.46 213.09 L960.78 203.63 L961.10 193.34 L961.42 181.82 L961.73 168.99 L962.05 154.83 L962.37 138.33 L962.69 120.07 L963.00 101.67 L963.32 83.15 L963.64 64.28 L963.96 45.34 L964.27 26.56 L964.59 7.81 L964.91 -10.94 L964.91 -9.04 L965.41 20.43 L965.91 49.28 L966.41 77.48 L966.91 102.80 L967.41 124.20 L967.90 145.01 L968.40 168.15 L968.90 191.21 L969.40 211.24 L969.90 229.31 L970.40 246.01 L970.90 261.52 L971.40 275.57 L971.90 288.52 L972.40 299.73 L972.90 309.22 L973.40 317.71 L973.90 324.92 L974.39 330.68 L974.89 335.43 L975.39 339.63 L975.89 343.72 L976.39 347.63 L976.89 351.26 L976.89 686.13 M976.89 686.13 L976.89 351.26 L977.21 350.72 L977.53 349.20 L977.84 346.84 L978.16 343.79 L978.48 340.20 L978.80 336.22 L979.11 332.01 L979.43 326.79 L979.75 319.04 L980.07 310.48 L980.38 303.00 L980.70 296.88 L981.02 291.26 L981.34 285.89 L981.65 280.56 L981.97 275.01 L982.29 269.15 L982.61 263.29 L982.92 257.34 L983.24 251.16 L983.56 244.61 L983.88 237.55 L984.19 229.96 L984.51 221.84 L984.83 213.09 L985.15 203.63 L985.46 193.34 L985.78 181.82 L986.10 168.99 L986.42 154.83 L986.73 138.33 L987.05 120.07 L987.37 101.67 L987.69 83.15 L988.00 64.28 L988.32 45.34 L988.64 26.56 L988.96 7.81 L989.27 -10.94 L989.27 -9.04 L989.77 20.43 L990.27 49.28 L990.77 77.48 L991.27 102.80 L991.77 124.20 L992.27 145.01 L992.77 168.15 L993.27 191.21 L993.77 211.24 L994.27 229.31 L994.76 246.01 L995.26 261.52 L995.76 275.57 L996.26 288.52 L996.76 299.73 L997.26 309.22 L997.76 317.71 L998.26 324.92 L998.76 330.68 L999.26 335.43 L999.76 339.63 L1000.26 343.72 L1000.76 347.63 L1001.25 351.26 L1001.25 686.13 M1001.25 686.13 L1001.25 351.26 L1001.57 350.72 L1001.89 349.20 L1002.21 346.84 L1002.52 343.79 L1002.84 340.20 L1003.16 336.22 L1003.48 332.01 L1003.79 326.79 L1004.11 319.04 L1004.43 310.48 L1004.75 303.00 L1005.06 296.88 L1005.38 291.26 L1005.70 285.89 L1006.02 280.56 L1006.33 275.01 L1006.65 269.15 L1006.97 263.29 L1007.29 257.34 L1007.60 251.16 L1007.92 244.61 L1008.24 237.55 L1008.56 229.96 L1008.87 221.84 L1009.19 213.09 L1009.51 203.63 L1009.83 193.34 L1010.14 181.82 L1010.46 168.99 L1010.78 154.83 L1011.10 138.33 L1011.41 120.07 L1011.73 101.67 L1012.05 83.15 L1012.37 64.28 L1012.68 45.34 L1013.00 26.56 L1013.32 7.81 L1013.64 -10.94 L1013.64 -9.04 L1014.14 20.43 L1014.63 49.28 L1015.13 77.48 L1015.63 102.80 L1016.13 124.20 L1016.63 145.01 L1017.13 168.15 L1017.63 191.21 L1018.13 211.24 L1018.63 229.31 L1019.13 246.01 L1019.63 261.52 L1020.13 275.57 L1020.63 288.52 L1021.12 299.73 L1021.62 309.22 L1022.12 317.71 L1022.62 324.92 L1023.12 330.68 L1023.62 335.43 L1024.12 339.63 L1024.62 343.72 L1025.12 347.63 L1025.62 351.26 L1025.62 686.13 M1025.62 686.13 L1025.62 351.26 L1025.94 350.72 L1026.25 349.20 L1026.57 346.84 L1026.89 343.79 L1027.21 340.20 L1027.52 336.22 L1027.84 332.01 L1028.16 326.79 L1028.48 319.04 L1028.79 310.48 L1029.11 303.00 L1029.43 296.88 L1029.75 291.26 L1030.06 285.89 L1030.38 280.56 L1030.70 275.01 L1031.02 269.15 L1031.33 263.29 L1031.65 257.34 L1031.97 251.16 L1032.29 244.61 L1032.60 237.55 L1032.92 229.96 L1033.24 221.84 L1033.56 213.09 L1033.87 203.63 L1034.19 193.34 L1034.51 181.82 L1034.83 168.99 L1035.14 154.83 L1035.46 138.33 L1035.78 120.07 L1036.10 101.67 L1036.41 83.15 L1036.73 64.28 L1037.05 45.34 L1037.37 26.56 L1037.68 7.81 L1038.00 -10.94 L1038.00 -9.04 L1038.50 20.43 L1039.00 49.28 L1039.50 77.48 L1040.00 102.80 L1040.50 124.20 L1041.00 145.01 L1041.49 168.15 L1041.99 191.21 L1042.49 211.24 L1042.99 229.31 L1043.49 246.01 L1043.99 261.52 L1044.49 275.57 L1044.99 288.52 L1045.49 299.73 L1045.99 309.22 L1046.49 317.71 L1046.99 324.92 L1047.49 330.68 L1047.98 335.43 L1048.48 339.63 L1048.98 343.72 L1049.48 347.63 L1049.98 351.26 L1049.98 686.13 M1049.98 686.13 L1049.98 351.26 L1050.30 350.72 L1050.62 349.20 L1050.93 346.84 L1051.25 343.79 L1051.57 340.20 L1051.89 336.22 L1052.20 332.01 L1052.52 326.79 L1052.84 319.04 L1053.16 310.48 L1053.47 303.00 L1053.79 296.88 L1054.11 291.26 L1054.43 285.89 L1054.74 280.56 L1055.06 275.01 L1055.38 269.15 L1055.70 263.29 L1056.01 257.34 L1056.33 251.16 L1056.65 244.61 L1056.97 237.55 L1057.28 229.96 L1057.60 221.84 L1057.92 213.09 L1058.24 203.63 L1058.55 193.34 L1058.87 181.82 L1059.19 168.99 L1059.51 154.83 L1059.82 138.33 L1060.14 120.07 L1060.46 101.67 L1060.78 83.15 L1061.09 64.28 L1061.41 45.34 L1061.73 26.56 L1062.05 7.81 L1062.36 -10.94 L1062.36 -9.04 L1062.86 20.43 L1063.36 49.28 L1063.86 77.48 L1064.36 102.80 L1064.86 124.20 L1065.36 145.01 L1065.86 168.15 L1066.36 191.21 L1066.86 211.24 L1067.36 229.31 L1067.86 246.01 L1068.35 261.52 L1068.85 275.57 L1069.35 288.52 L1069.85 299.73 L1070.35 309.22 L1070.85 317.71 L1071.35 324.92 L1071.85 330.68 L1072.35 335.43 L1072.85 339.63 L1073.35 343.72 L1073.85 347.63 L1074.35 351.26 L1074.35 686.13 M1074.35 686.13 L1074.35 351.26 L1074.66 350.72 L1074.98 349.20 L1075.30 346.84 L1075.62 343.79 L1075.93 340.20 L1076.25 336.22 L1076.57 332.01 L1076.89 326.79 L1077.20 319.04 L1077.52 310.48 L1077.84 303.00 L1078.16 296.88 L1078.47 291.26 L1078.79 285.89 L1079.11 280.56 L1079.43 275.01 L1079.74 269.15 L1080.06 263.29 L1080.38 257.34 L1080.70 251.16 L1081.01 244.61 L1081.33 237.55 L1081.65 229.96 L1081.97 221.84 L1082.28 213.09 L1082.60 203.63 L1082.92 193.34 L1083.23 181.82 L1083.55 168.99 L1083.87 154.83 L1084.19 138.33 L1084.50 120.07 L1084.82 101.67 L1085.14 83.15 L1085.46 64.28 L1085.77 45.34 L1086.09 26.56 L1086.41 7.81 L1086.73 -10.94 L1086.73 -9.04 L1087.23 20.43 L1087.73 49.28 L1088.22 77.48 L1088.72 102.80 L1089.22 124.20 L1089.72 145.01 L1090.22 168.15 L1090.72 191.21 L1091.22 211.24 L1091.72 229.31 L1092.22 246.01 L1092.72 261.52 L1093.22 275.57 L1093.72 288.52 L1094.22 299.73 L1094.72 309.22 L1095.21 317.71 L1095.71 324.92 L1096.21 330.68 L1096.71 335.43 L1097.21 339.63 L1097.71 343.72 L1098.21 347.63 L1098.71 351.26 L1098.71 686.13 M1098.71 686.13 L1098.71 351.26 L1099.03 350.72 L1099.34 349.20 L1099.66 346.84 L1099.98 343.79 L1100.30 340.20 L1100.61 336.22 L1100.93 332.01 L1101.25 326.79 L1101.57 319.04 L1101.88 310.48 L1102.20 303.00 L1102.52 296.88 L1102.84 291.26 L1103.15 285.89 L1103.47 280.56 L1103.79 275.01 L1104.11 269.15 L1104.42 263.29 L1104.74 257.34 L1105.06 251.16 L1105.38 244.61 L1105.69 237.55 L1106.01 229.96 L1106.33 221.84 L1106.65 213.09 L1106.96 203.63 L1107.28 193.34 L1107.60 181.82 L1107.92 168.99 L1108.23 154.83 L1108.55 138.33 L1108.87 120.07 L1109.19 101.67 L1109.50 83.15 L1109.82 64.28 L1110.14 45.34 L1110.46 26.56 L1110.77 7.81 L1111.09 -10.94 L1111.09 -9.04 L1111.59 20.43 L1112.09 49.28 L1112.59 77.48 L1113.09 102.80 L1113.59 124.20 L1114.09 145.01 L1114.59 168.15 L1115.08 191.21 L1115.58 211.24 L1116.08 229.31 L1116.58 246.01 L1117.08 261.52 L1117.58 275.57 L1118.08 288.52 L1118.58 299.73 L1119.08 309.22 L1119.58 317.71 L1120.08 324.92 L1120.58 330.68 L1121.08 335.43 L1121.58 339.63 L1122.07 343.72 L1122.57 347.63 L1123.07 351.26 L1123.07 686.13 M1123.07 686.13 L1123.07 351.26 L1123.39 350.72 L1123.71 349.20 L1124.03 346.84 L1124.34 343.79 L1124.66 340.20 L1124.98 336.22 L1125.30 332.01 L1125.61 326.79 L1125.93 319.04 L1126.25 310.48 L1126.57 303.00 L1126.88 296.88 L1127.20 291.26 L1127.52 285.89 L1127.83 280.56 L1128.15 275.01 L1128.47 269.15 L1128.79 263.29 L1129.10 257.34 L1129.42 251.16 L1129.74 244.61 L1130.06 237.55 L1130.37 229.96 L1130.69 221.84 L1131.01 213.09 L1131.33 203.63 L1131.64 193.34 L1131.96 181.82 L1132.28 168.99 L1132.60 154.83 L1132.91 138.33 L1133.23 120.07 L1133.55 101.67 L1133.87 83.15 L1134.18 64.28 L1134.50 45.34 L1134.82 26.56 L1135.14 7.81 L1135.45 -10.94 L1135.45 -9.04 L1135.95 20.43 L1136.45 49.28 L1136.95 77.48 L1137.45 102.80 L1137.95 124.20 L1138.45 145.01 L1138.95 168.15 L1139.45 191.21 L1139.95 211.24 L1140.45 229.31 L1140.95 246.01 L1141.45 261.52 L1141.94 275.57 L1142.44 288.52 L1142.94 299.73 L1143.44 309.22 L1143.94 317.71 L1144.44 324.92 L1144.94 330.68 L1145.44 335.43 L1145.94 339.63 L1146.44 343.72 L1146.94 347.63 L1147.44 351.26 L1147.44 686.13 M1147.44 686.13 L1147.44 351.26 L1147.75 350.72 L1148.07 349.20 L1148.39 346.84 L1148.71 343.79 L1149.02 340.20 L1149.34 336.22 L1149.66 332.01 L1149.98 326.79 L1150.29 319.04 L1150.61 310.48 L1150.93 303.00 L1151.25 296.88 L1151.56 291.26 L1151.88 285.89 L1152.20 280.56 L1152.52 275.01 L1152.83 269.15 L1153.15 263.29 L1153.47 257.34 L1153.79 251.16 L1154.10 244.61 L1154.42 237.55 L1154.74 229.96 L1155.06 221.84 L1155.37 213.09 L1155.69 203.63 L1156.01 193.34 L1156.33 181.82 L1156.64 168.99 L1156.96 154.83 L1157.28 138.33 L1157.60 120.07 L1157.91 101.67 L1158.23 83.15 L1158.55 64.28 L1158.87 45.34 L1159.18 26.56 L1159.50 7.81 L1159.82 -10.94 L1159.82 -9.04 L1160.32 20.43 L1160.82 49.28 L1161.32 77.48 L1161.82 102.80 L1162.31 124.20 L1162.81 145.01 L1163.31 168.15 L1163.81 191.21 L1164.31 211.24 L1164.81 229.31 L1165.31 246.01 L1165.81 261.52 L1166.31 275.57 L1166.81 288.52 L1167.31 299.73 L1167.81 309.22 L1168.31 317.71 L1168.80 324.92 L1169.30 330.68 L1169.80 335.43 L1170.30 339.63 L1170.80 343.72 L1171.30 347.63 L1171.80 351.26 L1171.80 686.13 M1171.80 686.13 L1171.80 354.68 L1171.80 354.68 L1172.54 330.55 L1173.27 319.35 L1174.01 312.34 L1174.74 307.02 L1175.48 302.78 L1176.21 299.44 L1176.95 296.84 L1177.68 294.84 L1178.42 293.22 L1179.16 291.69 L1179.89 289.99 L1180.63 288.07 L1181.36 286.12 L1182.10 284.09 L1182.83 281.92 L1183.57 279.55 L1184.31 276.93 L1185.04 274.00 L1185.78 270.77 L1186.51 267.29 L1187.25 263.57 L1187.98 259.67 L1188.72 255.61 L1189.45 251.42 L1190.19 247.15 L1190.93 242.72 L1191.66 238.03 L1192.40 233.10 L1193.13 227.91 L1193.87 222.46 L1194.60 216.77 L1195.34 210.73 L1196.07 204.21 L1196.81 197.33 L1197.55 190.16 L1198.28 182.80 L1199.02 175.35 L1199.75 167.89 L1200.49 160.52 L1201.22 153.34 L1201.96 146.35 L1202.69 139.43 L1203.43 132.56 L1204.17 125.69 L1204.90 118.79 L1205.64 111.82 L1206.37 104.73 L1207.11 97.49 L1207.84 90.06 L1208.58 82.48 L1209.32 74.78 L1210.05 66.93 L1210.79 58.90 L1211.52 50.66 L1212.26 42.18 L1212.99 33.45 L1213.73 24.51 L1214.46 15.40 L1215.20 6.09 L1215.20 2.58 L1215.95 10.90 L1216.70 19.19 L1217.45 27.44 L1218.20 35.67 L1218.95 43.85 L1219.70 51.99 L1220.44 60.07 L1221.19 68.10 L1221.94 76.08 L1222.69 84.01 L1223.44 91.89 L1224.19 99.74 L1224.94 107.58 L1225.69 115.38 L1226.44 123.13 L1227.19 130.82 L1227.94 138.43 L1228.69 145.95 L1229.44 153.35 L1230.19 160.60 L1230.93 167.67 L1231.68 174.60 L1232.43 181.46 L1233.18 188.28 L1233.93 195.12 L1234.68 202.04 L1235.43 209.09 L1236.18 216.32 L1236.93 223.87 L1237.68 231.65 L1238.43 239.39 L1239.18 246.79 L1239.93 254.06 L1240.68 261.40 L1241.42 268.42 L1242.17 274.74 L1242.92 279.98 L1243.67 284.35 L1244.42 288.24 L1245.17 291.75 L1245.92 295.00 L1246.67 298.08 L1247.42 301.04 L1248.17 303.71 L1248.92 306.20 L1249.67 308.63 L1250.42 311.16 L1251.17 313.90 L1251.91 316.81 L1252.66 319.80 L1253.41 322.88 L1254.16 326.05 L1254.91 329.33 L1255.66 332.72 L1256.41 336.23 L1257.16 339.88 L1257.91 343.72 L1258.66 347.82 L1259.41 352.10 L1260.16 356.52 L1260.91 361.01 L1261.66 365.53 L1262.40 370.01 L1263.15 374.48 L1263.90 379.01 L1264.65 383.58 L1265.40 388.16 L1266.15 392.76 L1266.90 397.39 L1266.90 686.13 M1266.90 686.13 L1266.90 397.39 L1267.60 378.60 L1269.00 337.60 L1271.50 296.59 L1276.00 238.50"/><path id="m2" d="M115.20 1268.81 L115.20 917.75 L116.20 742.22 L117.40 601.80 L118.30 601.80 L118.60 664.99 L120.00 714.14 L122.00 756.27 L124.20 798.39 L126.40 841.93 L128.40 882.65 L129.80 917.75 L129.80 1268.81 M129.80 1268.81 L129.80 928.29 L129.80 928.29 L130.54 904.34 L131.27 893.04 L132.01 885.86 L132.74 880.47 L133.48 876.11 L134.21 872.62 L134.95 869.85 L135.68 867.69 L136.42 865.97 L137.16 864.47 L137.89 862.96 L138.63 861.21 L139.36 859.34 L140.10 857.44 L140.83 855.46 L141.57 853.34 L142.31 851.04 L143.04 848.51 L143.78 845.69 L144.51 842.59 L145.25 839.26 L145.98 835.71 L146.72 831.98 L147.45 828.10 L148.19 824.09 L148.93 819.99 L149.66 815.80 L150.40 811.41 L151.13 806.78 L151.87 801.93 L152.60 796.84 L153.34 791.53 L154.07 785.98 L154.81 780.09 L155.55 773.78 L156.28 767.13 L157.02 760.21 L157.75 753.10 L158.49 745.90 L159.22 738.67 L159.96 731.50 L160.69 724.46 L161.43 717.63 L162.17 710.89 L162.90 704.22 L163.64 697.57 L164.37 690.92 L165.11 684.22 L165.84 677.45 L166.58 670.56 L167.32 663.54 L168.05 656.33 L168.79 649.00 L169.52 641.55 L170.26 633.97 L170.99 626.23 L171.73 618.30 L172.46 610.17 L173.20 601.80 L173.20 601.80 L173.94 610.49 L174.68 619.45 L175.42 628.52 L176.16 637.51 L176.90 646.26 L177.63 654.58 L178.37 662.50 L179.11 670.21 L179.85 677.73 L180.59 685.08 L181.33 692.30 L182.07 699.39 L182.81 706.38 L183.55 713.30 L184.29 720.17 L185.03 727.00 L185.77 733.78 L186.50 740.50 L187.24 747.15 L187.98 753.71 L188.72 760.17 L189.46 766.51 L190.20 772.73 L190.94 778.81 L191.68 784.73 L192.42 790.58 L193.16 796.44 L193.90 802.16 L194.63 807.62 L195.37 812.68 L196.11 817.21 L196.85 821.18 L197.59 824.78 L198.33 828.11 L199.07 831.24 L199.81 834.27 L200.55 837.29 L201.29 840.37 L202.03 843.62 L202.77 847.09 L203.50 850.72 L204.24 854.42 L204.98 858.07 L205.72 861.58 L206.46 864.84 L207.20 867.74 L207.94 870.32 L208.68 872.66 L209.42 874.87 L210.16 877.06 L210.90 879.35 L211.63 881.82 L212.37 884.56 L213.11 887.46 L213.85 890.52 L214.59 893.78 L215.33 897.25 L216.07 900.95 L216.81 904.91 L217.55 909.27 L218.29 914.21 L219.03 920.35 L219.77 928.06 L220.50 936.15 L221.24 943.39 L221.98 948.96 L222.72 953.86 L223.46 958.13 L224.20 961.64 L224.20 1268.81 M224.20 1268.81 L224.20 961.64 L224.51 946.73 L224.83 933.62 L225.14 922.34 L225.45 912.92 L225.76 905.39 L226.08 899.77 L226.39 895.48 L226.70 891.06 L227.02 886.39 L227.33 881.22 L227.64 875.59 L227.95 869.57 L228.27 863.20 L228.58 856.54 L228.89 849.65 L229.21 842.60 L229.52 835.42 L229.83 827.98 L230.14 820.16 L230.46 812.00 L230.77 803.55 L231.08 794.83 L231.39 785.90 L231.71 776.80 L232.02 767.56 L232.33 758.22 L232.65 748.84 L232.96 739.43 L233.27 729.86 L233.58 720.04 L233.90 709.85 L234.21 699.17 L234.52 687.91 L234.84 675.93 L235.15 662.93 L235.46 648.86 L235.77 633.87 L236.09 618.13 L236.40 601.80 L300.10 601.80 L300.60 634.17 L301.09 662.66 L301.59 684.23 L302.08 701.19 L302.58 715.60 L303.08 728.64 L303.57 741.49 L304.07 755.32 L304.56 770.67 L305.06 786.70 L305.55 802.72 L306.05 818.03 L306.55 831.92 L307.04 844.19 L307.54 855.87 L308.03 866.81 L308.53 876.76 L309.03 885.48 L309.52 892.84 L310.02 899.60 L310.51 905.80 L311.01 911.29 L311.50 915.91 L312.00 919.51 L312.00 1268.81 M312.00 1268.81 L312.00 919.51 L312.31 917.02 L312.63 914.17 L312.94 910.98 L313.25 907.49 L313.56 903.72 L313.88 899.71 L314.19 895.48 L314.50 891.06 L314.82 886.39 L315.13 881.22 L315.44 875.59 L315.75 869.57 L316.07 863.20 L316.38 856.54 L316.69 849.65 L317.01 842.60 L317.32 835.42 L317.63 827.98 L317.94 820.16 L318.26 812.00 L318.57 803.55 L318.88 794.83 L319.19 785.90 L319.51 776.80 L319.82 767.56 L320.13 758.22 L320.45 748.84 L320.76 739.43 L321.07 729.86 L321.38 720.04 L321.70 709.85 L322.01 699.17 L322.32 687.91 L322.64 675.93 L322.95 662.93 L323.26 648.86 L323.57 633.87 L323.89 618.13 L324.20 601.80 L387.40 601.80 L387.90 634.17 L388.39 662.66 L388.89 684.23 L389.38 701.19 L389.88 715.60 L390.38 728.64 L390.87 741.49 L391.37 755.32 L391.86 770.67 L392.36 786.70 L392.85 802.72 L393.35 818.03 L393.85 831.92 L394.34 844.19 L394.84 855.87 L395.33 866.81 L395.83 876.76 L396.33 885.48 L396.82 892.84 L397.32 899.60 L397.81 905.80 L398.31 911.29 L398.80 915.91 L399.30 919.51 L399.30 1268.81 M399.30 1268.81 L399.30 919.51 L399.61 917.02 L399.93 914.17 L400.24 910.98 L400.55 907.49 L400.86 903.72 L401.18 899.71 L401.49 895.48 L401.80 891.06 L402.12 886.39 L402.43 881.22 L402.74 875.59 L403.05 869.57 L403.37 863.20 L403.68 856.54 L403.99 849.65 L404.31 842.60 L404.62 835.42 L404.93 827.98 L405.24 820.16 L405.56 812.00 L405.87 803.55 L406.18 794.83 L406.49 785.90 L406.81 776.80 L407.12 767.56 L407.43 758.22 L407.75 748.84 L408.06 739.43 L408.37 729.86 L408.68 720.04 L409.00 709.85 L409.31 699.17 L409.62 687.91 L409.94 675.93 L410.25 662.93 L410.56 648.86 L410.87 633.87 L411.19 618.13 L411.50 601.80 L474.10 601.80 L474.60 634.17 L475.09 662.66 L475.59 684.23 L476.08 701.19 L476.58 715.60 L477.08 728.64 L477.57 741.49 L478.07 755.32 L478.56 770.67 L479.06 786.70 L479.55 802.72 L480.05 818.03 L480.55 831.92 L481.04 844.19 L481.54 855.87 L482.03 866.81 L482.53 876.76 L483.03 885.48 L483.52 892.84 L484.02 899.60 L484.51 905.80 L485.01 911.29 L485.50 915.91 L486.00 919.51 L486.00 1268.81 M486.00 1268.81 L486.00 928.29 L486.00 928.29 L486.71 904.34 L487.42 893.04 L488.13 885.86 L488.83 880.47 L489.54 876.11 L490.25 872.62 L490.96 869.85 L491.67 867.69 L492.38 865.97 L493.08 864.47 L493.79 862.96 L494.50 861.21 L495.21 859.34 L495.92 857.44 L496.63 855.46 L497.34 853.34 L498.04 851.04 L498.75 848.51 L499.46 845.69 L500.17 842.59 L500.88 839.26 L501.59 835.71 L502.29 831.98 L503.00 828.10 L503.71 824.09 L504.42 819.99 L505.13 815.80 L505.84 811.41 L506.55 806.78 L507.25 801.93 L507.96 796.84 L508.67 791.53 L509.38 785.98 L510.09 780.09 L510.80 773.78 L511.51 767.13 L512.21 760.21 L512.92 753.10 L513.63 745.90 L514.34 738.67 L515.05 731.50 L515.76 724.46 L516.46 717.63 L517.17 710.89 L517.88 704.22 L518.59 697.57 L519.30 690.92 L520.01 684.22 L520.72 677.45 L521.42 670.56 L522.13 663.54 L522.84 656.33 L523.55 649.00 L524.26 641.55 L524.97 633.97 L525.67 626.23 L526.38 618.30 L527.09 610.17 L527.80 601.80 L527.80 601.80 L528.53 609.70 L529.26 617.55 L530.00 625.36 L530.73 633.11 L531.46 640.83 L532.19 648.49 L532.92 656.11 L533.66 663.69 L534.39 671.27 L535.12 678.82 L535.85 686.33 L536.58 693.79 L537.31 701.19 L538.05 708.51 L538.78 715.73 L539.51 722.86 L540.24 729.83 L540.97 736.64 L541.71 743.33 L542.44 749.95 L543.17 756.53 L543.90 763.14 L544.63 769.80 L545.37 776.57 L546.10 783.48 L546.83 790.64 L547.56 798.09 L548.29 805.62 L549.02 812.98 L549.76 819.99 L550.49 827.08 L551.22 834.12 L551.95 840.80 L552.68 846.78 L553.42 851.75 L554.15 855.96 L554.88 859.73 L555.61 863.16 L556.34 866.33 L557.08 869.33 L557.81 872.25 L558.54 874.92 L559.27 877.37 L560.00 879.73 L560.73 882.11 L561.47 884.61 L562.20 887.34 L562.93 890.17 L563.66 893.08 L564.39 896.07 L565.13 899.15 L565.86 902.32 L566.59 905.59 L567.32 908.97 L568.05 912.48 L568.79 916.14 L569.52 920.04 L570.25 924.13 L570.98 928.35 L571.71 932.67 L572.44 937.03 L573.18 941.38 L573.91 945.69 L574.64 950.02 L575.37 954.41 L576.10 958.82 L576.84 963.24 L577.57 967.69 L578.30 972.17 L578.30 1268.81 M578.30 1268.81 L578.30 972.17 L578.61 954.15 L578.93 938.48 L579.24 925.18 L579.55 914.28 L579.86 905.80 L580.18 899.79 L580.49 895.48 L580.80 891.06 L581.12 886.39 L581.43 881.22 L581.74 875.59 L582.05 869.57 L582.37 863.20 L582.68 856.54 L582.99 849.65 L583.31 842.60 L583.62 835.42 L583.93 827.98 L584.24 820.16 L584.56 812.00 L584.87 803.55 L585.18 794.83 L585.49 785.90 L585.81 776.80 L586.12 767.56 L586.43 758.22 L586.75 748.84 L587.06 739.43 L587.37 729.86 L587.68 720.04 L588.00 709.85 L588.31 699.17 L588.62 687.91 L588.94 675.93 L589.25 662.93 L589.56 648.86 L589.87 633.87 L590.19 618.13 L590.50 601.80 L654.10 601.80 L654.60 634.17 L655.09 662.66 L655.59 684.23 L656.08 701.19 L656.58 715.60 L657.08 728.64 L657.57 741.49 L658.07 755.32 L658.56 770.67 L659.06 786.70 L659.55 802.72 L660.05 818.03 L660.55 831.92 L661.04 844.19 L661.54 855.87 L662.03 866.81 L662.53 876.76 L663.02 885.48 L663.52 892.84 L664.02 899.60 L664.51 905.80 L665.01 911.29 L665.50 915.91 L666.00 919.51 L666.00 1268.81 M666.00 1268.81 L666.00 919.51 L666.31 917.02 L666.63 914.17 L666.94 910.98 L667.25 907.49 L667.56 903.72 L667.88 899.71 L668.19 895.48 L668.50 891.06 L668.82 886.39 L669.13 881.22 L669.44 875.59 L669.75 869.57 L670.07 863.20 L670.38 856.54 L670.69 849.65 L671.01 842.60 L671.32 835.42 L671.63 827.98 L671.94 820.16 L672.26 812.00 L672.57 803.55 L672.88 794.83 L673.19 785.90 L673.51 776.80 L673.82 767.56 L674.13 758.22 L674.45 748.84 L674.76 739.43 L675.07 729.86 L675.38 720.04 L675.70 709.85 L676.01 699.17 L676.32 687.91 L676.64 675.93 L676.95 662.93 L677.26 648.86 L677.57 633.87 L677.89 618.13 L678.20 601.80 L740.40 601.80 L740.90 634.17 L741.39 662.66 L741.89 684.23 L742.38 701.19 L742.88 715.60 L743.38 728.64 L743.87 741.49 L744.37 755.32 L744.86 770.67 L745.36 786.70 L745.85 802.72 L746.35 818.03 L746.85 831.92 L747.34 844.19 L747.84 855.87 L748.33 866.81 L748.83 876.76 L749.32 885.48 L749.82 892.84 L750.32 899.60 L750.81 905.80 L751.31 911.29 L751.80 915.91 L752.30 919.51 L752.30 1268.81 M752.30 1268.81 L752.30 919.51 L752.61 917.02 L752.93 914.17 L753.24 910.98 L753.55 907.49 L753.86 903.72 L754.18 899.71 L754.49 895.48 L754.80 891.06 L755.12 886.39 L755.43 881.22 L755.74 875.59 L756.05 869.57 L756.37 863.20 L756.68 856.54 L756.99 849.65 L757.31 842.60 L757.62 835.42 L757.93 827.98 L758.24 820.16 L758.56 812.00 L758.87 803.55 L759.18 794.83 L759.49 785.90 L759.81 776.80 L760.12 767.56 L760.43 758.22 L760.75 748.84 L761.06 739.43 L761.37 729.86 L761.68 720.04 L762.00 709.85 L762.31 699.17 L762.62 687.91 L762.94 675.93 L763.25 662.93 L763.56 648.86 L763.87 633.87 L764.19 618.13 L764.50 601.80 L826.30 601.80 L826.80 634.17 L827.29 662.66 L827.79 684.23 L828.28 701.19 L828.78 715.60 L829.28 728.64 L829.77 741.49 L830.27 755.32 L830.76 770.67 L831.26 786.70 L831.75 802.72 L832.25 818.03 L832.75 831.92 L833.24 844.19 L833.74 855.87 L834.23 866.81 L834.73 876.76 L835.23 885.48 L835.72 892.84 L836.22 899.60 L836.71 905.80 L837.21 911.29 L837.70 915.91 L838.20 919.51 L838.20 1268.81 M838.20 1268.81 L838.20 928.29 L838.20 928.29 L838.89 904.34 L839.58 893.04 L840.27 885.86 L840.96 880.47 L841.65 876.11 L842.34 872.62 L843.03 869.85 L843.72 867.69 L844.41 865.97 L845.10 864.47 L845.79 862.96 L846.48 861.21 L847.17 859.34 L847.86 857.44 L848.55 855.46 L849.24 853.34 L849.93 851.04 L850.62 848.51 L851.31 845.69 L852.00 842.59 L852.69 839.26 L853.38 835.71 L854.07 831.98 L854.76 828.10 L855.45 824.09 L856.14 819.99 L856.83 815.80 L857.52 811.41 L858.21 806.78 L858.89 801.93 L859.58 796.84 L860.27 791.53 L860.96 785.98 L861.65 780.09 L862.34 773.78 L863.03 767.13 L863.72 760.21 L864.41 753.10 L865.10 745.90 L865.79 738.67 L866.48 731.50 L867.17 724.46 L867.86 717.63 L868.55 710.89 L869.24 704.22 L869.93 697.57 L870.62 690.92 L871.31 684.22 L872.00 677.45 L872.69 670.56 L873.38 663.54 L874.07 656.33 L874.76 649.00 L875.45 641.55 L876.14 633.97 L876.83 626.23 L877.52 618.30 L878.21 610.17 L878.90 601.80 L878.90 601.80 L879.61 610.49 L880.32 619.45 L881.03 628.52 L881.75 637.51 L882.46 646.26 L883.17 654.58 L883.88 662.50 L884.59 670.21 L885.30 677.73 L886.02 685.08 L886.73 692.30 L887.44 699.39 L888.15 706.38 L888.86 713.30 L889.57 720.17 L890.29 727.00 L891.00 733.78 L891.71 740.50 L892.42 747.15 L893.13 753.71 L893.84 760.17 L894.56 766.51 L895.27 772.73 L895.98 778.81 L896.69 784.73 L897.40 790.58 L898.11 796.44 L898.82 802.16 L899.54 807.62 L900.25 812.68 L900.96 817.21 L901.67 821.18 L902.38 824.78 L903.09 828.11 L903.81 831.24 L904.52 834.27 L905.23 837.29 L905.94 840.37 L906.65 843.62 L907.36 847.09 L908.08 850.72 L908.79 854.42 L909.50 858.07 L910.21 861.58 L910.92 864.84 L911.63 867.74 L912.34 870.32 L913.06 872.66 L913.77 874.87 L914.48 877.06 L915.19 879.35 L915.90 881.82 L916.61 884.56 L917.33 887.46 L918.04 890.52 L918.75 893.78 L919.46 897.25 L920.17 900.95 L920.88 904.91 L921.60 909.27 L922.31 914.21 L923.02 920.35 L923.73 928.06 L924.44 936.15 L925.15 943.39 L925.87 948.96 L926.58 953.86 L927.29 958.13 L928.00 961.64 L928.00 1268.81 M928.00 1268.81 L928.00 961.64 L928.31 946.73 L928.63 933.62 L928.94 922.34 L929.25 912.92 L929.56 905.39 L929.88 899.77 L930.19 895.48 L930.50 891.06 L930.82 886.39 L931.13 881.22 L931.44 875.59 L931.75 869.57 L932.07 863.20 L932.38 856.54 L932.69 849.65 L933.01 842.60 L933.32 835.42 L933.63 827.98 L933.94 820.16 L934.26 812.00 L934.57 803.55 L934.88 794.83 L935.19 785.90 L935.51 776.80 L935.82 767.56 L936.13 758.22 L936.45 748.84 L936.76 739.43 L937.07 729.86 L937.38 720.04 L937.70 709.85 L938.01 699.17 L938.32 687.91 L938.64 675.93 L938.95 662.93 L939.26 648.86 L939.57 633.87 L939.89 618.13 L940.20 601.80 L1002.70 601.80 L1003.20 634.17 L1003.69 662.66 L1004.19 684.23 L1004.68 701.19 L1005.18 715.60 L1005.68 728.64 L1006.17 741.49 L1006.67 755.32 L1007.16 770.67 L1007.66 786.70 L1008.15 802.72 L1008.65 818.03 L1009.15 831.92 L1009.64 844.19 L1010.14 855.87 L1010.63 866.81 L1011.13 876.76 L1011.62 885.48 L1012.12 892.84 L1012.62 899.60 L1013.11 905.80 L1013.61 911.29 L1014.10 915.91 L1014.60 919.51 L1014.60 1268.81 M1014.60 1268.81 L1014.60 919.51 L1014.91 917.02 L1015.23 914.17 L1015.54 910.98 L1015.85 907.49 L1016.16 903.72 L1016.48 899.71 L1016.79 895.48 L1017.10 891.06 L1017.42 886.39 L1017.73 881.22 L1018.04 875.59 L1018.35 869.57 L1018.67 863.20 L1018.98 856.54 L1019.29 849.65 L1019.61 842.60 L1019.92 835.42 L1020.23 827.98 L1020.54 820.16 L1020.86 812.00 L1021.17 803.55 L1021.48 794.83 L1021.79 785.90 L1022.11 776.80 L1022.42 767.56 L1022.73 758.22 L1023.05 748.84 L1023.36 739.43 L1023.67 729.86 L1023.98 720.04 L1024.30 709.85 L1024.61 699.17 L1024.92 687.91 L1025.24 675.93 L1025.55 662.93 L1025.86 648.86 L1026.17 633.87 L1026.49 618.13 L1026.80 601.80 L1088.80 601.80 L1089.30 634.17 L1089.79 662.66 L1090.29 684.23 L1090.78 701.19 L1091.28 715.60 L1091.77 728.64 L1092.27 741.49 L1092.77 755.32 L1093.26 770.67 L1093.76 786.70 L1094.25 802.72 L1094.75 818.03 L1095.25 831.92 L1095.74 844.19 L1096.24 855.87 L1096.73 866.81 L1097.23 876.76 L1097.72 885.48 L1098.22 892.84 L1098.72 899.60 L1099.21 905.80 L1099.71 911.29 L1100.20 915.91 L1100.70 919.51 L1100.70 1268.81 M1100.70 1268.81 L1100.70 919.51 L1101.01 917.02 L1101.33 914.17 L1101.64 910.98 L1101.95 907.49 L1102.26 903.72 L1102.58 899.71 L1102.89 895.48 L1103.20 891.06 L1103.52 886.39 L1103.83 881.22 L1104.14 875.59 L1104.45 869.57 L1104.77 863.20 L1105.08 856.54 L1105.39 849.65 L1105.71 842.60 L1106.02 835.42 L1106.33 827.98 L1106.64 820.16 L1106.96 812.00 L1107.27 803.55 L1107.58 794.83 L1107.89 785.90 L1108.21 776.80 L1108.52 767.56 L1108.83 758.22 L1109.15 748.84 L1109.46 739.43 L1109.77 729.86 L1110.08 720.04 L1110.40 709.85 L1110.71 699.17 L1111.02 687.91 L1111.34 675.93 L1111.65 662.93 L1111.96 648.86 L1112.27 633.87 L1112.59 618.13 L1112.90 601.80 L1173.70 601.80 L1174.20 634.17 L1174.69 662.66 L1175.19 684.23 L1175.68 701.19 L1176.18 715.60 L1176.67 728.64 L1177.17 741.49 L1177.67 755.32 L1178.16 770.67 L1178.66 786.70 L1179.15 802.72 L1179.65 818.03 L1180.15 831.92 L1180.64 844.19 L1181.14 855.87 L1181.63 866.81 L1182.13 876.76 L1182.62 885.48 L1183.12 892.84 L1183.62 899.60 L1184.11 905.80 L1184.61 911.29 L1185.10 915.91 L1185.60 919.51 L1185.60 1268.81 M1185.60 1268.81 L1185.60 928.29 L1185.60 928.29 L1186.27 904.34 L1186.94 893.04 L1187.61 885.86 L1188.28 880.47 L1188.96 876.11 L1189.63 872.62 L1190.30 869.85 L1190.97 867.69 L1191.64 865.97 L1192.31 864.47 L1192.98 862.96 L1193.65 861.21 L1194.33 859.34 L1195.00 857.44 L1195.67 855.46 L1196.34 853.34 L1197.01 851.04 L1197.68 848.51 L1198.35 845.69 L1199.02 842.59 L1199.69 839.26 L1200.37 835.71 L1201.04 831.98 L1201.71 828.10 L1202.38 824.09 L1203.05 819.99 L1203.72 815.80 L1204.39 811.41 L1205.06 806.78 L1205.74 801.93 L1206.41 796.84 L1207.08 791.53 L1207.75 785.98 L1208.42 780.09 L1209.09 773.78 L1209.76 767.13 L1210.43 760.21 L1211.11 753.10 L1211.78 745.90 L1212.45 738.67 L1213.12 731.50 L1213.79 724.46 L1214.46 717.63 L1215.13 710.89 L1215.80 704.22 L1216.47 697.57 L1217.15 690.92 L1217.82 684.22 L1218.49 677.45 L1219.16 670.56 L1219.83 663.54 L1220.50 656.33 L1221.17 649.00 L1221.84 641.55 L1222.52 633.97 L1223.19 626.23 L1223.86 618.30 L1224.53 610.17 L1225.20 601.80 L1225.20 601.80 L1225.89 609.70 L1226.57 617.55 L1227.26 625.36 L1227.95 633.11 L1228.63 640.83 L1229.32 648.49 L1230.01 656.11 L1230.70 663.69 L1231.38 671.27 L1232.07 678.82 L1232.76 686.33 L1233.44 693.79 L1234.13 701.19 L1234.82 708.51 L1235.50 715.73 L1236.19 722.86 L1236.88 729.83 L1237.57 736.64 L1238.25 743.33 L1238.94 749.95 L1239.63 756.53 L1240.31 763.14 L1241.00 769.80 L1241.69 776.57 L1242.37 783.48 L1243.06 790.64 L1243.75 798.09 L1244.43 805.62 L1245.12 812.98 L1245.81 819.99 L1246.50 827.08 L1247.18 834.12 L1247.87 840.80 L1248.56 846.78 L1249.24 851.75 L1249.93 855.96 L1250.62 859.73 L1251.30 863.16 L1251.99 866.33 L1252.68 869.33 L1253.37 872.25 L1254.05 874.92 L1254.74 877.37 L1255.43 879.73 L1256.11 882.11 L1256.80 884.61 L1257.49 887.34 L1258.17 890.17 L1258.86 893.08 L1259.55 896.07 L1260.23 899.15 L1260.92 902.32 L1261.61 905.59 L1262.30 908.97 L1262.98 912.48 L1263.67 916.14 L1264.36 920.04 L1265.04 924.13 L1265.73 928.35 L1266.42 932.67 L1267.10 937.03 L1267.79 941.38 L1268.48 945.69 L1269.17 950.02 L1269.85 954.41 L1270.54 958.82 L1271.23 963.24 L1271.91 967.69 L1272.60 972.17 L1272.60 1268.81"/></defs>
<g fill="none" stroke="#1c1c1c" stroke-width="4.60" stroke-linejoin="round" opacity="0.36">
<use href="#m1" clip-path="url(#cT)"/>
<use href="#m2" clip-path="url(#cB)"/>
</g>
<g fill="none" stroke="#1c1c1c" stroke-width="2.00" stroke-linejoin="round" opacity="1.00">
<use href="#m1" clip-path="url(#cT)"/>
<use href="#m2" clip-path="url(#cB)"/>
</g>
<rect x="130.2" y="498.3" width="231.1" height="73.3" fill="#fff"/>
<rect x="131.0" y="1079.4" width="231.0" height="73.1" fill="#fff"/>
<g fill="none" opacity="0.32" stroke-linejoin="miter">
<path d="M179.40 3.70V9.20 M179.31 584.00V578.50 M179.43 584.00V589.50 M179.51 1164.20V1158.70 M245.40 3.70V13.70 M245.12 584.00V574.00 M245.25 584.00V594.00 M245.31 1164.20V1154.20 M311.40 3.70V9.20 M310.94 584.00V578.50 M311.07 584.00V589.50 M311.12 1164.20V1158.70 M377.40 3.70V13.70 M376.75 584.00V574.00 M376.90 584.00V594.00 M376.93 1164.20V1154.20 M443.40 3.70V9.20 M442.56 584.00V578.50 M442.73 584.00V589.50 M442.74 1164.20V1158.70 M509.40 3.70V13.70 M508.38 584.00V574.00 M508.55 584.00V594.00 M508.54 1164.20V1154.20 M575.40 3.70V9.20 M574.19 584.00V578.50 M574.38 584.00V589.50 M574.35 1164.20V1158.70 M641.40 3.70V13.70 M640.00 584.00V574.00 M640.20 584.00V594.00 M640.16 1164.20V1154.20 M707.40 3.70V9.20 M705.81 584.00V578.50 M706.02 584.00V589.50 M705.97 1164.20V1158.70 M773.40 3.70V13.70 M771.62 584.00V574.00 M771.85 584.00V594.00 M771.77 1164.20V1154.20 M839.40 3.70V9.20 M837.44 584.00V578.50 M837.68 584.00V589.50 M837.58 1164.20V1158.70 M905.40 3.70V13.70 M903.25 584.00V574.00 M903.50 584.00V594.00 M903.39 1164.20V1154.20 M971.40 3.70V9.20 M969.06 584.00V578.50 M969.33 584.00V589.50 M969.20 1164.20V1158.70 M1037.40 3.70V13.70 M1034.88 584.00V574.00 M1035.15 584.00V594.00 M1035.00 1164.20V1154.20 M1103.40 3.70V9.20 M1100.69 584.00V578.50 M1100.97 584.00V589.50 M1100.81 1164.20V1158.70 M1169.40 3.70V13.70 M1166.50 584.00V574.00 M1166.80 584.00V594.00 M1166.62 1164.20V1154.20 M1235.40 3.70V9.20 M1232.31 584.00V578.50 M1232.62 584.00V589.50 M1232.43 1164.20V1158.70 M114.00 36.90H124.00 M1275.10 36.90H1265.10 M113.80 601.80H123.80 M1274.60 601.80H1264.60 M114.00 105.24H119.50 M1275.10 105.24H1269.60 M113.80 672.01H119.30 M1274.60 672.01H1269.10 M114.00 173.58H124.00 M1275.10 173.58H1265.10 M113.80 742.22H123.80 M1274.60 742.22H1264.60 M114.00 241.92H119.50 M1275.10 241.92H1269.60 M113.80 812.44H119.30 M1274.60 812.44H1269.10 M114.00 310.26H124.00 M1275.10 310.26H1265.10 M113.80 882.65H123.80 M1274.60 882.65H1264.60 M114.00 378.60H119.50 M1275.10 378.60H1269.60 M113.80 952.86H119.30 M1274.60 952.86H1269.10 M114.00 446.94H124.00 M1275.10 446.94H1265.10 M113.80 1023.07H123.80 M1274.60 1023.07H1264.60 M114.00 515.28H119.50 M1275.10 515.28H1269.60 M113.80 1093.28H119.30 M1274.60 1093.28H1269.10" stroke="#262626" stroke-width="3.90"/>
<path d="M130.2 498.3h231.1v73.3h-231.1Z M131.0 1079.4h231.0v73.1h-231.0Z" stroke="#1c1c1c" stroke-width="4.40"/>
<path d="M114.00 3.70H1275.10V584.00H114.00Z M113.80 584.00H1274.60V1164.20H113.80Z" stroke="#262626" stroke-width="4.70"/>
</g>
<g fill="none" opacity="1.00" stroke-linejoin="miter">
<path d="M179.40 3.70V9.20 M179.31 584.00V578.50 M179.43 584.00V589.50 M179.51 1164.20V1158.70 M245.40 3.70V13.70 M245.12 584.00V574.00 M245.25 584.00V594.00 M245.31 1164.20V1154.20 M311.40 3.70V9.20 M310.94 584.00V578.50 M311.07 584.00V589.50 M311.12 1164.20V1158.70 M377.40 3.70V13.70 M376.75 584.00V574.00 M376.90 584.00V594.00 M376.93 1164.20V1154.20 M443.40 3.70V9.20 M442.56 584.00V578.50 M442.73 584.00V589.50 M442.74 1164.20V1158.70 M509.40 3.70V13.70 M508.38 584.00V574.00 M508.55 584.00V594.00 M508.54 1164.20V1154.20 M575.40 3.70V9.20 M574.19 584.00V578.50 M574.38 584.00V589.50 M574.35 1164.20V1158.70 M641.40 3.70V13.70 M640.00 584.00V574.00 M640.20 584.00V594.00 M640.16 1164.20V1154.20 M707.40 3.70V9.20 M705.81 584.00V578.50 M706.02 584.00V589.50 M705.97 1164.20V1158.70 M773.40 3.70V13.70 M771.62 584.00V574.00 M771.85 584.00V594.00 M771.77 1164.20V1154.20 M839.40 3.70V9.20 M837.44 584.00V578.50 M837.68 584.00V589.50 M837.58 1164.20V1158.70 M905.40 3.70V13.70 M903.25 584.00V574.00 M903.50 584.00V594.00 M903.39 1164.20V1154.20 M971.40 3.70V9.20 M969.06 584.00V578.50 M969.33 584.00V589.50 M969.20 1164.20V1158.70 M1037.40 3.70V13.70 M1034.88 584.00V574.00 M1035.15 584.00V594.00 M1035.00 1164.20V1154.20 M1103.40 3.70V9.20 M1100.69 584.00V578.50 M1100.97 584.00V589.50 M1100.81 1164.20V1158.70 M1169.40 3.70V13.70 M1166.50 584.00V574.00 M1166.80 584.00V594.00 M1166.62 1164.20V1154.20 M1235.40 3.70V9.20 M1232.31 584.00V578.50 M1232.62 584.00V589.50 M1232.43 1164.20V1158.70 M114.00 36.90H124.00 M1275.10 36.90H1265.10 M113.80 601.80H123.80 M1274.60 601.80H1264.60 M114.00 105.24H119.50 M1275.10 105.24H1269.60 M113.80 672.01H119.30 M1274.60 672.01H1269.10 M114.00 173.58H124.00 M1275.10 173.58H1265.10 M113.80 742.22H123.80 M1274.60 742.22H1264.60 M114.00 241.92H119.50 M1275.10 241.92H1269.60 M113.80 812.44H119.30 M1274.60 812.44H1269.10 M114.00 310.26H124.00 M1275.10 310.26H1265.10 M113.80 882.65H123.80 M1274.60 882.65H1264.60 M114.00 378.60H119.50 M1275.10 378.60H1269.60 M113.80 952.86H119.30 M1274.60 952.86H1269.10 M114.00 446.94H124.00 M1275.10 446.94H1265.10 M113.80 1023.07H123.80 M1274.60 1023.07H1264.60 M114.00 515.28H119.50 M1275.10 515.28H1269.60 M113.80 1093.28H119.30 M1274.60 1093.28H1269.10" stroke="#262626" stroke-width="1.90"/>
<path d="M130.2 498.3h231.1v73.3h-231.1Z M131.0 1079.4h231.0v73.1h-231.0Z" stroke="#1c1c1c" stroke-width="2.00"/>
<path d="M114.00 3.70H1275.10V584.00H114.00Z M113.80 584.00H1274.60V1164.20H113.80Z" stroke="#262626" stroke-width="2.30"/>
</g>
<g font-family="Liberation Sans, sans-serif" font-size="35" fill="#111" stroke="#111" stroke-width="0.6" stroke-opacity="0.5" text-anchor="end">
<text x="103" y="50.57">4.4</text>
<text x="103" y="187.26">4</text>
<text x="103" y="323.94">3.6</text>
<text x="103" y="460.62">3.2</text>
<text x="103" y="615.48">4.4</text>
<text x="103" y="755.90">4</text>
<text x="103" y="896.32">3.6</text>
<text x="103" y="1036.75">3.2</text>
<text x="103" y="1177.17">2.8</text>
</g>
<g font-family="Liberation Sans, sans-serif" font-size="35" fill="#111" stroke="#111" stroke-width="0.6" stroke-opacity="0.5" text-anchor="middle">
<text x="113.70" y="1206">0</text>
<text x="245.31" y="1206">50</text>
<text x="376.93" y="1206">100</text>
<text x="508.54" y="1206">150</text>
<text x="640.16" y="1206">200</text>
<text x="771.77" y="1206">250</text>
<text x="903.39" y="1206">300</text>
<text x="1035.00" y="1206">350</text>
<text x="1166.62" y="1206">400</text>
</g>
<text x="685.3" y="1247.8" font-family="Liberation Sans, sans-serif" font-size="40" fill="#111" stroke="#111" stroke-width="0.6" stroke-opacity="0.5" text-anchor="middle" textLength="226" lengthAdjust="spacingAndGlyphs">Time (hours)</text>
<text transform="translate(34.6 294.7) rotate(-90)" x="0" y="0" font-family="Liberation Sans, sans-serif" font-size="41" fill="#111" stroke="#111" stroke-width="0.6" stroke-opacity="0.5" text-anchor="middle" textLength="200" lengthAdjust="spacingAndGlyphs">Voltage (V)</text>
<text transform="translate(34.6 873.7) rotate(-90)" x="0" y="0" font-family="Liberation Sans, sans-serif" font-size="41" fill="#111" stroke="#111" stroke-width="0.6" stroke-opacity="0.5" text-anchor="middle" textLength="200" lengthAdjust="spacingAndGlyphs">Voltage (V)</text>
<text x="139.1" y="551.9" font-family="Liberation Sans, sans-serif" font-weight="bold" font-size="48.6" fill="#ff0000">Method</text>
<path d="M328.4 522.4H334.2L337.6 517.5H343.6V551.8H336.6V527.9H328.4Z" fill="#ff0000"/>
<text x="140.6" y="1133.2" font-family="Liberation Sans, sans-serif" font-weight="bold" font-size="48.6" fill="#ff0000">Method 2</text>
</svg>
</body></html>
